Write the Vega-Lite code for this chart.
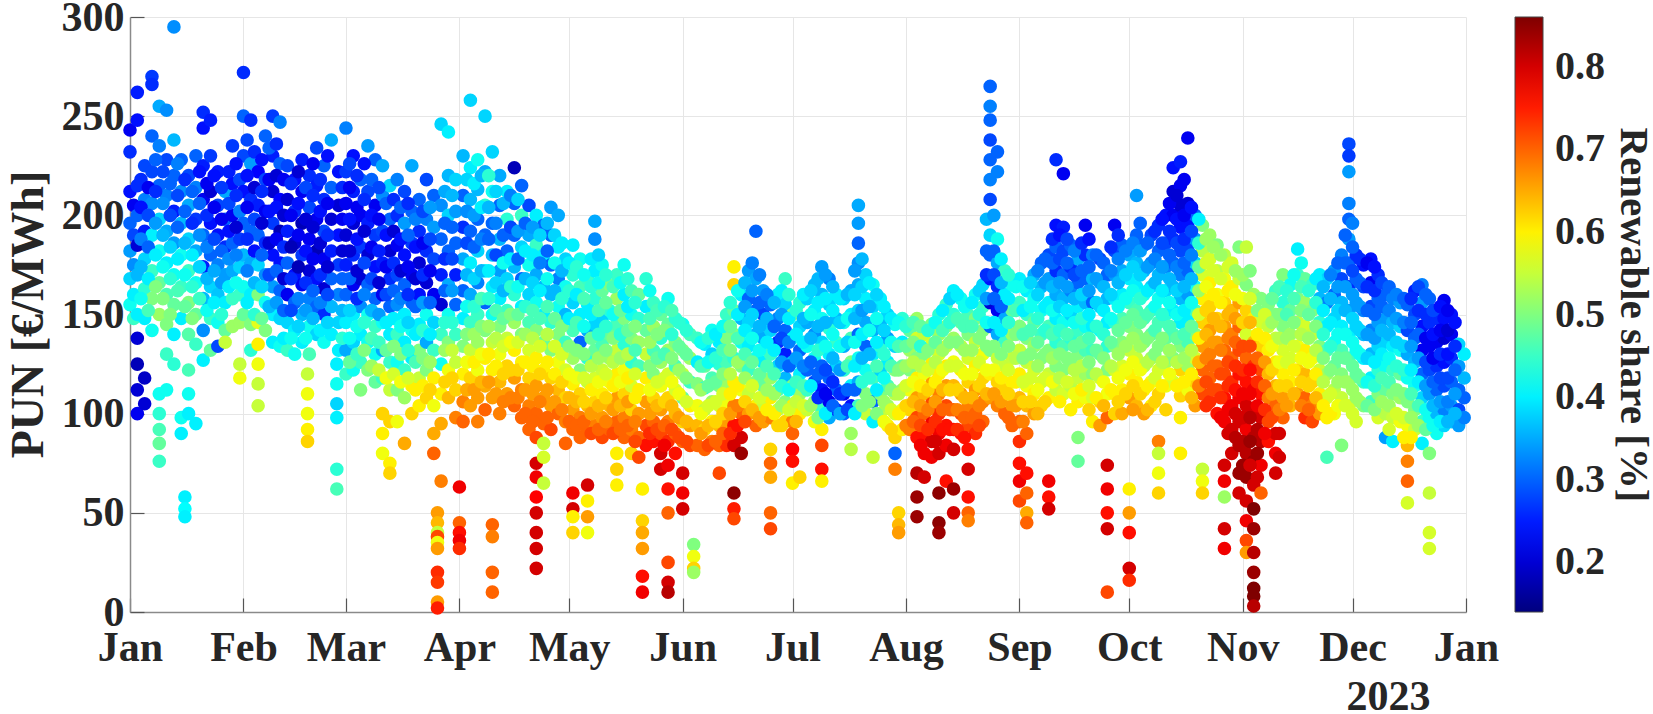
{
  "$schema": "https://vega.github.io/schema/vega-lite/v6.json",
  "width": 1336,
  "height": 595,
  "autosize": {"type": "none"},
  "padding": {"left": 130, "top": 17, "right": 187, "bottom": 102},
  "background": "white",
  "config": {
    "view": {"stroke": null},
    "font": "Liberation Serif",
    "axis": {
      "labelFont": "Liberation Serif",
      "labelFontSize": 42,
      "labelFontWeight": "bold",
      "labelColor": "#262626",
      "titleFont": "Liberation Serif",
      "titleFontSize": 46,
      "titleFontWeight": "bold",
      "titleColor": "#262626",
      "domainColor": "#8a8a8a",
      "domainWidth": 1.5,
      "tickColor": "#555555",
      "tickWidth": 1.2,
      "tickSize": -14,
      "gridColor": "#e6e6e6",
      "gridWidth": 1
    }
  },
  "data": {
    "values": [
      {"day":0,"pun":212,"share":0.24},{"day":0,"pun":196,"share":0.3},{"day":0,"pun":182,"share":0.34},{"day":0,"pun":168,"share":0.38},{"day":0,"pun":155,"share":0.42},{"day":0,"pun":232,"share":0.26},{"day":0,"pun":243,"share":0.22},
      {"day":1,"pun":205,"share":0.22},{"day":1,"pun":190,"share":0.28},{"day":1,"pun":175,"share":0.33},{"day":1,"pun":160,"share":0.4},{"day":1,"pun":148,"share":0.45},
      {"day":2,"pun":262,"share":0.25},{"day":2,"pun":248,"share":0.24},{"day":2,"pun":215,"share":0.26},{"day":2,"pun":200,"share":0.3},{"day":2,"pun":185,"share":0.2},{"day":2,"pun":170,"share":0.36},{"day":2,"pun":150,"share":0.4},{"day":2,"pun":138,"share":0.2},{"day":2,"pun":125,"share":0.18},{"day":2,"pun":112,"share":0.2},{"day":2,"pun":100,"share":0.22},
      {"day":4,"pun":225,"share":0.28},{"day":4,"pun":208,"share":0.32},{"day":4,"pun":192,"share":0.25},{"day":4,"pun":178,"share":0.38},{"day":4,"pun":163,"share":0.44},{"day":4,"pun":148,"share":0.4},{"day":4,"pun":105,"share":0.2},{"day":4,"pun":118,"share":0.19},
      {"day":6,"pun":270,"share":0.27},{"day":6,"pun":266,"share":0.26},{"day":6,"pun":240,"share":0.3},{"day":6,"pun":222,"share":0.28},{"day":6,"pun":206,"share":0.33},{"day":6,"pun":190,"share":0.4},{"day":6,"pun":172,"share":0.45},{"day":6,"pun":158,"share":0.5},{"day":6,"pun":142,"share":0.42},
      {"day":8,"pun":255,"share":0.35},{"day":8,"pun":235,"share":0.32},{"day":8,"pun":215,"share":0.3},{"day":8,"pun":198,"share":0.38},{"day":8,"pun":182,"share":0.42},{"day":8,"pun":166,"share":0.48},{"day":8,"pun":150,"share":0.52},{"day":8,"pun":110,"share":0.42},{"day":8,"pun":100,"share":0.44},{"day":8,"pun":92,"share":0.46},{"day":8,"pun":85,"share":0.48},{"day":8,"pun":76,"share":0.45},
      {"day":10,"pun":253,"share":0.33},{"day":10,"pun":228,"share":0.28},{"day":10,"pun":210,"share":0.32},{"day":10,"pun":192,"share":0.35},{"day":10,"pun":176,"share":0.4},{"day":10,"pun":160,"share":0.46},{"day":10,"pun":145,"share":0.5},{"day":10,"pun":130,"share":0.45},{"day":10,"pun":112,"share":0.42},
      {"day":12,"pun":295,"share":0.33},{"day":12,"pun":238,"share":0.36},{"day":12,"pun":220,"share":0.3},{"day":12,"pun":202,"share":0.25},{"day":12,"pun":186,"share":0.34},{"day":12,"pun":170,"share":0.42},{"day":12,"pun":155,"share":0.48},{"day":12,"pun":140,"share":0.4},{"day":12,"pun":125,"share":0.44},
      {"day":14,"pun":228,"share":0.3},{"day":14,"pun":212,"share":0.33},{"day":14,"pun":196,"share":0.36},{"day":14,"pun":180,"share":0.42},{"day":14,"pun":164,"share":0.45},{"day":14,"pun":148,"share":0.4},{"day":14,"pun":98,"share":0.42},{"day":14,"pun":90,"share":0.4},
      {"day":15,"pun":58,"share":0.4},{"day":15,"pun":52,"share":0.41},{"day":15,"pun":48,"share":0.4},
      {"day":16,"pun":220,"share":0.28},{"day":16,"pun":205,"share":0.35},{"day":16,"pun":188,"share":0.38},{"day":16,"pun":172,"share":0.45},{"day":16,"pun":156,"share":0.5},{"day":16,"pun":140,"share":0.47},{"day":16,"pun":122,"share":0.46},{"day":16,"pun":110,"share":0.42},{"day":16,"pun":100,"share":0.4},
      {"day":18,"pun":230,"share":0.3},{"day":18,"pun":214,"share":0.32},{"day":18,"pun":198,"share":0.27},{"day":18,"pun":182,"share":0.35},{"day":18,"pun":166,"share":0.42},{"day":18,"pun":150,"share":0.48},{"day":18,"pun":135,"share":0.45},{"day":18,"pun":95,"share":0.4},
      {"day":20,"pun":252,"share":0.26},{"day":20,"pun":244,"share":0.24},{"day":20,"pun":225,"share":0.25},{"day":20,"pun":208,"share":0.22},{"day":20,"pun":190,"share":0.3},{"day":20,"pun":174,"share":0.25},{"day":20,"pun":158,"share":0.36},{"day":20,"pun":142,"share":0.33},{"day":20,"pun":127,"share":0.4},
      {"day":22,"pun":248,"share":0.25},{"day":22,"pun":230,"share":0.27},{"day":22,"pun":212,"share":0.2},{"day":22,"pun":196,"share":0.24},{"day":22,"pun":180,"share":0.3},{"day":22,"pun":164,"share":0.38},{"day":22,"pun":148,"share":0.45},{"day":22,"pun":132,"share":0.48},
      {"day":24,"pun":222,"share":0.25},{"day":24,"pun":205,"share":0.28},{"day":24,"pun":190,"share":0.24},{"day":24,"pun":175,"share":0.32},{"day":24,"pun":160,"share":0.37},{"day":24,"pun":146,"share":0.42},{"day":24,"pun":134,"share":0.28},
      {"day":26,"pun":212,"share":0.35},{"day":26,"pun":198,"share":0.3},{"day":26,"pun":184,"share":0.26},{"day":26,"pun":170,"share":0.34},{"day":26,"pun":156,"share":0.4},{"day":26,"pun":142,"share":0.48},{"day":26,"pun":136,"share":0.55},
      {"day":28,"pun":235,"share":0.27},{"day":28,"pun":216,"share":0.24},{"day":28,"pun":200,"share":0.22},{"day":28,"pun":186,"share":0.3},{"day":28,"pun":172,"share":0.35},{"day":28,"pun":158,"share":0.45},{"day":28,"pun":144,"share":0.52},
      {"day":30,"pun":218,"share":0.28},{"day":30,"pun":202,"share":0.32},{"day":30,"pun":188,"share":0.27},{"day":30,"pun":174,"share":0.38},{"day":30,"pun":160,"share":0.45},{"day":30,"pun":146,"share":0.52},{"day":30,"pun":125,"share":0.55},{"day":30,"pun":118,"share":0.58},
      {"day":31,"pun":272,"share":0.26},{"day":31,"pun":250,"share":0.3},{"day":31,"pun":230,"share":0.28},{"day":31,"pun":212,"share":0.24},{"day":31,"pun":196,"share":0.3},{"day":31,"pun":180,"share":0.36},{"day":31,"pun":164,"share":0.42},{"day":31,"pun":150,"share":0.48},
      {"day":33,"pun":248,"share":0.26},{"day":33,"pun":226,"share":0.34},{"day":33,"pun":208,"share":0.26},{"day":33,"pun":192,"share":0.3},{"day":33,"pun":176,"share":0.35},{"day":33,"pun":160,"share":0.4},{"day":33,"pun":145,"share":0.5},{"day":33,"pun":132,"share":0.44},
      {"day":35,"pun":222,"share":0.23},{"day":35,"pun":205,"share":0.25},{"day":35,"pun":190,"share":0.3},{"day":35,"pun":175,"share":0.38},{"day":35,"pun":160,"share":0.5},{"day":35,"pun":146,"share":0.57},{"day":35,"pun":135,"share":0.6},{"day":35,"pun":125,"share":0.58},{"day":35,"pun":115,"share":0.55},{"day":35,"pun":104,"share":0.55},
      {"day":37,"pun":240,"share":0.3},{"day":37,"pun":218,"share":0.28},{"day":37,"pun":202,"share":0.22},{"day":37,"pun":186,"share":0.26},{"day":37,"pun":170,"share":0.33},{"day":37,"pun":156,"share":0.42},{"day":37,"pun":142,"share":0.5},
      {"day":39,"pun":250,"share":0.27},{"day":39,"pun":230,"share":0.25},{"day":39,"pun":212,"share":0.2},{"day":39,"pun":196,"share":0.27},{"day":39,"pun":180,"share":0.24},{"day":39,"pun":164,"share":0.34},{"day":39,"pun":150,"share":0.4},{"day":39,"pun":136,"share":0.4},
      {"day":41,"pun":247,"share":0.32},{"day":41,"pun":226,"share":0.3},{"day":41,"pun":208,"share":0.23},{"day":41,"pun":192,"share":0.18},{"day":41,"pun":176,"share":0.24},{"day":41,"pun":162,"share":0.3},{"day":41,"pun":148,"share":0.38},{"day":41,"pun":134,"share":0.42},
      {"day":43,"pun":225,"share":0.28},{"day":43,"pun":208,"share":0.2},{"day":43,"pun":192,"share":0.25},{"day":43,"pun":176,"share":0.3},{"day":43,"pun":160,"share":0.22},{"day":43,"pun":146,"share":0.38},{"day":43,"pun":132,"share":0.45},
      {"day":45,"pun":218,"share":0.24},{"day":45,"pun":202,"share":0.26},{"day":45,"pun":186,"share":0.2},{"day":45,"pun":170,"share":0.24},{"day":45,"pun":156,"share":0.3},{"day":45,"pun":142,"share":0.4},{"day":45,"pun":130,"share":0.42},
      {"day":47,"pun":228,"share":0.25},{"day":47,"pun":212,"share":0.22},{"day":47,"pun":196,"share":0.18},{"day":47,"pun":180,"share":0.27},{"day":47,"pun":165,"share":0.22},{"day":47,"pun":150,"share":0.36},{"day":47,"pun":136,"share":0.4},
      {"day":48.5,"pun":120,"share":0.55},{"day":48.5,"pun":110,"share":0.58},{"day":48.5,"pun":100,"share":0.58},{"day":48.5,"pun":92,"share":0.6},{"day":48.5,"pun":86,"share":0.62},
      {"day":49,"pun":220,"share":0.26},{"day":49,"pun":204,"share":0.28},{"day":49,"pun":188,"share":0.22},{"day":49,"pun":172,"share":0.2},{"day":49,"pun":158,"share":0.32},{"day":49,"pun":144,"share":0.42},{"day":49,"pun":130,"share":0.46},
      {"day":51,"pun":234,"share":0.28},{"day":51,"pun":215,"share":0.25},{"day":51,"pun":198,"share":0.22},{"day":51,"pun":182,"share":0.18},{"day":51,"pun":168,"share":0.24},{"day":51,"pun":154,"share":0.3},{"day":51,"pun":140,"share":0.38},
      {"day":53,"pun":225,"share":0.3},{"day":53,"pun":208,"share":0.26},{"day":53,"pun":192,"share":0.28},{"day":53,"pun":178,"share":0.22},{"day":53,"pun":163,"share":0.2},{"day":53,"pun":150,"share":0.26},{"day":53,"pun":136,"share":0.42},
      {"day":55,"pun":238,"share":0.35},{"day":55,"pun":214,"share":0.3},{"day":55,"pun":198,"share":0.2},{"day":55,"pun":182,"share":0.25},{"day":55,"pun":168,"share":0.3},{"day":55,"pun":154,"share":0.36},{"day":55,"pun":140,"share":0.4},
      {"day":56.5,"pun":125,"share":0.4},{"day":56.5,"pun":115,"share":0.42},{"day":56.5,"pun":105,"share":0.38},{"day":56.5,"pun":98,"share":0.4},{"day":56.5,"pun":72,"share":0.44},{"day":56.5,"pun":62,"share":0.46},
      {"day":57,"pun":222,"share":0.24},{"day":57,"pun":205,"share":0.2},{"day":57,"pun":190,"share":0.24},{"day":57,"pun":175,"share":0.27},{"day":57,"pun":160,"share":0.32},{"day":57,"pun":146,"share":0.38},{"day":57,"pun":132,"share":0.4},
      {"day":59,"pun":244,"share":0.32},{"day":59,"pun":222,"share":0.27},{"day":59,"pun":206,"share":0.22},{"day":59,"pun":190,"share":0.2},{"day":59,"pun":175,"share":0.25},{"day":59,"pun":160,"share":0.3},{"day":59,"pun":146,"share":0.4},{"day":59,"pun":132,"share":0.35},{"day":59,"pun":120,"share":0.45},
      {"day":61,"pun":230,"share":0.24},{"day":61,"pun":212,"share":0.25},{"day":61,"pun":196,"share":0.2},{"day":61,"pun":180,"share":0.26},{"day":61,"pun":165,"share":0.22},{"day":61,"pun":150,"share":0.4},{"day":61,"pun":136,"share":0.38},{"day":61,"pun":122,"share":0.42},
      {"day":63,"pun":218,"share":0.3},{"day":63,"pun":200,"share":0.22},{"day":63,"pun":184,"share":0.27},{"day":63,"pun":168,"share":0.2},{"day":63,"pun":154,"share":0.33},{"day":63,"pun":140,"share":0.4},{"day":63,"pun":126,"share":0.45},{"day":63,"pun":112,"share":0.5},
      {"day":65,"pun":235,"share":0.34},{"day":65,"pun":212,"share":0.28},{"day":65,"pun":196,"share":0.25},{"day":65,"pun":180,"share":0.2},{"day":65,"pun":165,"share":0.3},{"day":65,"pun":150,"share":0.42},{"day":65,"pun":136,"share":0.42},{"day":65,"pun":122,"share":0.5},
      {"day":67,"pun":228,"share":0.3},{"day":67,"pun":205,"share":0.22},{"day":67,"pun":190,"share":0.27},{"day":67,"pun":174,"share":0.24},{"day":67,"pun":158,"share":0.3},{"day":67,"pun":144,"share":0.45},{"day":67,"pun":130,"share":0.42},{"day":67,"pun":116,"share":0.48},
      {"day":69,"pun":225,"share":0.35},{"day":69,"pun":210,"share":0.33},{"day":69,"pun":192,"share":0.28},{"day":69,"pun":176,"share":0.25},{"day":69,"pun":160,"share":0.22},{"day":69,"pun":146,"share":0.42},{"day":69,"pun":132,"share":0.35},{"day":69,"pun":118,"share":0.45},{"day":69,"pun":100,"share":0.62},{"day":69,"pun":90,"share":0.6},{"day":69,"pun":80,"share":0.58},
      {"day":71,"pun":215,"share":0.38},{"day":71,"pun":198,"share":0.3},{"day":71,"pun":182,"share":0.2},{"day":71,"pun":168,"share":0.26},{"day":71,"pun":154,"share":0.3},{"day":71,"pun":140,"share":0.4},{"day":71,"pun":126,"share":0.45},{"day":71,"pun":112,"share":0.55},{"day":71,"pun":96,"share":0.62},{"day":71,"pun":75,"share":0.6},{"day":71,"pun":70,"share":0.62},
      {"day":73,"pun":218,"share":0.32},{"day":73,"pun":200,"share":0.26},{"day":73,"pun":185,"share":0.22},{"day":73,"pun":170,"share":0.28},{"day":73,"pun":155,"share":0.33},{"day":73,"pun":140,"share":0.45},{"day":73,"pun":126,"share":0.42},{"day":73,"pun":112,"share":0.5},{"day":73,"pun":96,"share":0.58},
      {"day":75,"pun":212,"share":0.28},{"day":75,"pun":196,"share":0.34},{"day":75,"pun":180,"share":0.24},{"day":75,"pun":165,"share":0.3},{"day":75,"pun":150,"share":0.4},{"day":75,"pun":136,"share":0.4},{"day":75,"pun":122,"share":0.45},{"day":75,"pun":108,"share":0.52},{"day":75,"pun":85,"share":0.65},
      {"day":77,"pun":225,"share":0.35},{"day":77,"pun":202,"share":0.3},{"day":77,"pun":186,"share":0.27},{"day":77,"pun":170,"share":0.22},{"day":77,"pun":156,"share":0.3},{"day":77,"pun":142,"share":0.42},{"day":77,"pun":128,"share":0.4},{"day":77,"pun":114,"share":0.6},{"day":77,"pun":100,"share":0.62},
      {"day":79,"pun":208,"share":0.3},{"day":79,"pun":192,"share":0.26},{"day":79,"pun":176,"share":0.2},{"day":79,"pun":160,"share":0.24},{"day":79,"pun":145,"share":0.4},{"day":79,"pun":132,"share":0.5},{"day":79,"pun":118,"share":0.55},{"day":79,"pun":104,"share":0.6},
      {"day":81,"pun":218,"share":0.28},{"day":81,"pun":198,"share":0.32},{"day":81,"pun":182,"share":0.26},{"day":81,"pun":166,"share":0.2},{"day":81,"pun":150,"share":0.42},{"day":81,"pun":136,"share":0.35},{"day":81,"pun":122,"share":0.5},{"day":81,"pun":108,"share":0.62},
      {"day":83,"pun":210,"share":0.3},{"day":83,"pun":194,"share":0.34},{"day":83,"pun":178,"share":0.28},{"day":83,"pun":160,"share":0.22},{"day":83,"pun":146,"share":0.38},{"day":83,"pun":132,"share":0.45},{"day":83,"pun":118,"share":0.6},{"day":83,"pun":104,"share":0.58},{"day":83,"pun":90,"share":0.65},{"day":83,"pun":80,"share":0.7},
      {"day":84,"pun":50,"share":0.66},{"day":84,"pun":45,"share":0.64},{"day":84,"pun":40,"share":0.55},{"day":84,"pun":38,"share":0.72},{"day":84,"pun":35,"share":0.58},{"day":84,"pun":32,"share":0.66},{"day":84,"pun":20,"share":0.74},{"day":84,"pun":15,"share":0.73},{"day":84,"pun":5,"share":0.66},{"day":84,"pun":2,"share":0.75},
      {"day":85,"pun":246,"share":0.38},{"day":85,"pun":205,"share":0.33},{"day":85,"pun":188,"share":0.3},{"day":85,"pun":170,"share":0.25},{"day":85,"pun":155,"share":0.2},{"day":85,"pun":140,"share":0.45},{"day":85,"pun":125,"share":0.42},{"day":85,"pun":110,"share":0.6},{"day":85,"pun":95,"share":0.65},{"day":85,"pun":66,"share":0.68},
      {"day":87,"pun":242,"share":0.4},{"day":87,"pun":220,"share":0.36},{"day":87,"pun":200,"share":0.38},{"day":87,"pun":182,"share":0.3},{"day":87,"pun":165,"share":0.35},{"day":87,"pun":150,"share":0.42},{"day":87,"pun":136,"share":0.5},{"day":87,"pun":122,"share":0.58},{"day":87,"pun":108,"share":0.64},
      {"day":89,"pun":218,"share":0.38},{"day":89,"pun":202,"share":0.34},{"day":89,"pun":186,"share":0.3},{"day":89,"pun":170,"share":0.25},{"day":89,"pun":155,"share":0.3},{"day":89,"pun":140,"share":0.45},{"day":89,"pun":126,"share":0.55},{"day":89,"pun":112,"share":0.62},{"day":89,"pun":98,"share":0.68},
      {"day":90,"pun":63,"share":0.78},{"day":90,"pun":45,"share":0.7},{"day":90,"pun":40,"share":0.76},{"day":90,"pun":36,"share":0.78},{"day":90,"pun":32,"share":0.74},
      {"day":91,"pun":230,"share":0.36},{"day":91,"pun":210,"share":0.3},{"day":91,"pun":194,"share":0.26},{"day":91,"pun":178,"share":0.35},{"day":91,"pun":162,"share":0.3},{"day":91,"pun":148,"share":0.4},{"day":91,"pun":134,"share":0.5},{"day":91,"pun":120,"share":0.6},{"day":91,"pun":106,"share":0.68},{"day":91,"pun":96,"share":0.7},
      {"day":93,"pun":258,"share":0.38},{"day":93,"pun":224,"share":0.4},{"day":93,"pun":208,"share":0.36},{"day":93,"pun":192,"share":0.3},{"day":93,"pun":176,"share":0.4},{"day":93,"pun":160,"share":0.35},{"day":93,"pun":146,"share":0.45},{"day":93,"pun":132,"share":0.55},{"day":93,"pun":118,"share":0.62},{"day":93,"pun":104,"share":0.66},
      {"day":95,"pun":228,"share":0.42},{"day":95,"pun":213,"share":0.36},{"day":95,"pun":198,"share":0.3},{"day":95,"pun":182,"share":0.38},{"day":95,"pun":166,"share":0.32},{"day":95,"pun":150,"share":0.45},{"day":95,"pun":136,"share":0.52},{"day":95,"pun":122,"share":0.58},{"day":95,"pun":108,"share":0.66},{"day":95,"pun":96,"share":0.68},
      {"day":97,"pun":250,"share":0.38},{"day":97,"pun":222,"share":0.35},{"day":97,"pun":205,"share":0.44},{"day":97,"pun":190,"share":0.3},{"day":97,"pun":172,"share":0.4},{"day":97,"pun":156,"share":0.3},{"day":97,"pun":142,"share":0.5},{"day":97,"pun":128,"share":0.6},{"day":97,"pun":114,"share":0.65},{"day":97,"pun":102,"share":0.7},
      {"day":99,"pun":232,"share":0.38},{"day":99,"pun":212,"share":0.42},{"day":99,"pun":196,"share":0.3},{"day":99,"pun":180,"share":0.36},{"day":99,"pun":164,"share":0.4},{"day":99,"pun":150,"share":0.42},{"day":99,"pun":136,"share":0.55},{"day":99,"pun":122,"share":0.6},{"day":99,"pun":108,"share":0.66},{"day":99,"pun":44,"share":0.7},{"day":99,"pun":38,"share":0.68},{"day":99,"pun":20,"share":0.7},{"day":99,"pun":10,"share":0.7},
      {"day":101,"pun":220,"share":0.35},{"day":101,"pun":205,"share":0.3},{"day":101,"pun":188,"share":0.36},{"day":101,"pun":172,"share":0.34},{"day":101,"pun":158,"share":0.4},{"day":101,"pun":144,"share":0.5},{"day":101,"pun":130,"share":0.58},{"day":101,"pun":116,"share":0.64},{"day":101,"pun":100,"share":0.68},
      {"day":103,"pun":212,"share":0.4},{"day":103,"pun":198,"share":0.44},{"day":103,"pun":182,"share":0.3},{"day":103,"pun":168,"share":0.38},{"day":103,"pun":152,"share":0.45},{"day":103,"pun":138,"share":0.55},{"day":103,"pun":124,"share":0.62},{"day":103,"pun":110,"share":0.66},
      {"day":105,"pun":224,"share":0.18},{"day":105,"pun":206,"share":0.3},{"day":105,"pun":190,"share":0.3},{"day":105,"pun":174,"share":0.36},{"day":105,"pun":160,"share":0.44},{"day":105,"pun":146,"share":0.52},{"day":105,"pun":132,"share":0.6},{"day":105,"pun":118,"share":0.66},{"day":105,"pun":104,"share":0.7},
      {"day":107,"pun":215,"share":0.3},{"day":107,"pun":200,"share":0.45},{"day":107,"pun":184,"share":0.38},{"day":107,"pun":168,"share":0.3},{"day":107,"pun":154,"share":0.4},{"day":107,"pun":140,"share":0.5},{"day":107,"pun":126,"share":0.6},{"day":107,"pun":112,"share":0.68},{"day":107,"pun":98,"share":0.7},
      {"day":109,"pun":205,"share":0.28},{"day":109,"pun":190,"share":0.35},{"day":109,"pun":175,"share":0.42},{"day":109,"pun":160,"share":0.38},{"day":109,"pun":146,"share":0.46},{"day":109,"pun":132,"share":0.56},{"day":109,"pun":118,"share":0.62},{"day":109,"pun":104,"share":0.68},{"day":109,"pun":92,"share":0.7},
      {"day":111,"pun":200,"share":0.4},{"day":111,"pun":185,"share":0.45},{"day":111,"pun":170,"share":0.35},{"day":111,"pun":156,"share":0.42},{"day":111,"pun":142,"share":0.5},{"day":111,"pun":128,"share":0.6},{"day":111,"pun":114,"share":0.66},{"day":111,"pun":100,"share":0.7},{"day":111,"pun":88,"share":0.72},{"day":111,"pun":75,"share":0.8},{"day":111,"pun":68,"share":0.78},{"day":111,"pun":58,"share":0.77},{"day":111,"pun":50,"share":0.8},{"day":111,"pun":40,"share":0.8},{"day":111,"pun":32,"share":0.8},{"day":111,"pun":22,"share":0.8},
      {"day":113,"pun":195,"share":0.3},{"day":113,"pun":180,"share":0.4},{"day":113,"pun":164,"share":0.36},{"day":113,"pun":150,"share":0.4},{"day":113,"pun":136,"share":0.48},{"day":113,"pun":122,"share":0.6},{"day":113,"pun":108,"share":0.66},{"day":113,"pun":95,"share":0.7},{"day":113,"pun":85,"share":0.55},{"day":113,"pun":78,"share":0.56},{"day":113,"pun":65,"share":0.55},
      {"day":115,"pun":204,"share":0.34},{"day":115,"pun":190,"share":0.3},{"day":115,"pun":175,"share":0.3},{"day":115,"pun":160,"share":0.36},{"day":115,"pun":146,"share":0.44},{"day":115,"pun":132,"share":0.5},{"day":115,"pun":118,"share":0.62},{"day":115,"pun":104,"share":0.66},{"day":115,"pun":92,"share":0.72},
      {"day":117,"pun":200,"share":0.35},{"day":117,"pun":184,"share":0.4},{"day":117,"pun":168,"share":0.32},{"day":117,"pun":154,"share":0.42},{"day":117,"pun":140,"share":0.5},{"day":117,"pun":126,"share":0.58},{"day":117,"pun":112,"share":0.64},{"day":117,"pun":100,"share":0.7},
      {"day":119,"pun":178,"share":0.38},{"day":119,"pun":164,"share":0.42},{"day":119,"pun":150,"share":0.36},{"day":119,"pun":136,"share":0.45},{"day":119,"pun":122,"share":0.56},{"day":119,"pun":108,"share":0.62},{"day":119,"pun":96,"share":0.68},{"day":119,"pun":85,"share":0.7},
      {"day":121,"pun":185,"share":0.4},{"day":121,"pun":170,"share":0.44},{"day":121,"pun":156,"share":0.38},{"day":121,"pun":142,"share":0.46},{"day":121,"pun":128,"share":0.52},{"day":121,"pun":115,"share":0.6},{"day":121,"pun":102,"share":0.66},{"day":121,"pun":92,"share":0.7},{"day":121,"pun":60,"share":0.78},{"day":121,"pun":52,"share":0.8},{"day":121,"pun":48,"share":0.6},{"day":121,"pun":40,"share":0.62},
      {"day":123,"pun":178,"share":0.42},{"day":123,"pun":164,"share":0.46},{"day":123,"pun":150,"share":0.4},{"day":123,"pun":136,"share":0.3},{"day":123,"pun":122,"share":0.5},{"day":123,"pun":110,"share":0.62},{"day":123,"pun":98,"share":0.68},{"day":123,"pun":88,"share":0.7},
      {"day":125,"pun":168,"share":0.45},{"day":125,"pun":155,"share":0.4},{"day":125,"pun":142,"share":0.35},{"day":125,"pun":128,"share":0.44},{"day":125,"pun":116,"share":0.55},{"day":125,"pun":104,"share":0.64},{"day":125,"pun":92,"share":0.7},{"day":125,"pun":64,"share":0.8},{"day":125,"pun":56,"share":0.6},{"day":125,"pun":48,"share":0.66},{"day":125,"pun":40,"share":0.58},
      {"day":127,"pun":197,"share":0.35},{"day":127,"pun":188,"share":0.33},{"day":127,"pun":172,"share":0.4},{"day":127,"pun":158,"share":0.44},{"day":127,"pun":145,"share":0.38},{"day":127,"pun":132,"share":0.48},{"day":127,"pun":118,"share":0.56},{"day":127,"pun":106,"share":0.62},{"day":127,"pun":94,"share":0.68},
      {"day":129,"pun":175,"share":0.42},{"day":129,"pun":162,"share":0.48},{"day":129,"pun":148,"share":0.38},{"day":129,"pun":135,"share":0.46},{"day":129,"pun":122,"share":0.55},{"day":129,"pun":110,"share":0.6},{"day":129,"pun":98,"share":0.66},{"day":129,"pun":88,"share":0.72},
      {"day":131,"pun":165,"share":0.5},{"day":131,"pun":152,"share":0.44},{"day":131,"pun":140,"share":0.48},{"day":131,"pun":128,"share":0.52},{"day":131,"pun":116,"share":0.58},{"day":131,"pun":104,"share":0.64},{"day":131,"pun":92,"share":0.7},
      {"day":133,"pun":170,"share":0.45},{"day":133,"pun":158,"share":0.52},{"day":133,"pun":145,"share":0.46},{"day":133,"pun":132,"share":0.55},{"day":133,"pun":120,"share":0.6},{"day":133,"pun":108,"share":0.66},{"day":133,"pun":96,"share":0.7},{"day":133,"pun":80,"share":0.6},{"day":133,"pun":72,"share":0.62},{"day":133,"pun":64,"share":0.6},
      {"day":135,"pun":175,"share":0.42},{"day":135,"pun":160,"share":0.4},{"day":135,"pun":148,"share":0.5},{"day":135,"pun":135,"share":0.44},{"day":135,"pun":122,"share":0.58},{"day":135,"pun":110,"share":0.62},{"day":135,"pun":98,"share":0.68},{"day":135,"pun":88,"share":0.7},
      {"day":137,"pun":162,"share":0.46},{"day":137,"pun":150,"share":0.42},{"day":137,"pun":138,"share":0.5},{"day":137,"pun":126,"share":0.44},{"day":137,"pun":114,"share":0.56},{"day":137,"pun":102,"share":0.62},{"day":137,"pun":92,"share":0.68},{"day":137,"pun":80,"share":0.62},
      {"day":139,"pun":160,"share":0.48},{"day":139,"pun":148,"share":0.44},{"day":139,"pun":136,"share":0.52},{"day":139,"pun":124,"share":0.46},{"day":139,"pun":112,"share":0.6},{"day":139,"pun":100,"share":0.66},{"day":139,"pun":88,"share":0.7},{"day":139,"pun":78,"share":0.72},
      {"day":140,"pun":62,"share":0.6},{"day":140,"pun":46,"share":0.62},{"day":140,"pun":40,"share":0.65},{"day":140,"pun":32,"share":0.66},{"day":140,"pun":18,"share":0.76},{"day":140,"pun":10,"share":0.78},
      {"day":141,"pun":168,"share":0.44},{"day":141,"pun":154,"share":0.4},{"day":141,"pun":142,"share":0.48},{"day":141,"pun":130,"share":0.55},{"day":141,"pun":118,"share":0.6},{"day":141,"pun":106,"share":0.66},{"day":141,"pun":94,"share":0.72},{"day":141,"pun":84,"share":0.76},
      {"day":143,"pun":156,"share":0.45},{"day":143,"pun":144,"share":0.52},{"day":143,"pun":132,"share":0.46},{"day":143,"pun":120,"share":0.5},{"day":143,"pun":108,"share":0.62},{"day":143,"pun":96,"share":0.7},{"day":143,"pun":86,"share":0.76},
      {"day":145,"pun":150,"share":0.48},{"day":145,"pun":138,"share":0.44},{"day":145,"pun":126,"share":0.52},{"day":145,"pun":114,"share":0.58},{"day":145,"pun":102,"share":0.66},{"day":145,"pun":90,"share":0.72},{"day":145,"pun":80,"share":0.8},{"day":145,"pun":72,"share":0.8},
      {"day":147,"pun":158,"share":0.42},{"day":147,"pun":145,"share":0.48},{"day":147,"pun":132,"share":0.52},{"day":147,"pun":120,"share":0.56},{"day":147,"pun":108,"share":0.62},{"day":147,"pun":96,"share":0.68},{"day":147,"pun":86,"share":0.74},{"day":147,"pun":74,"share":0.78},{"day":147,"pun":62,"share":0.76},{"day":147,"pun":50,"share":0.7},{"day":147,"pun":25,"share":0.72},{"day":147,"pun":15,"share":0.8},{"day":147,"pun":10,"share":0.82},
      {"day":149,"pun":148,"share":0.44},{"day":149,"pun":136,"share":0.5},{"day":149,"pun":124,"share":0.46},{"day":149,"pun":112,"share":0.56},{"day":149,"pun":100,"share":0.64},{"day":149,"pun":90,"share":0.7},{"day":149,"pun":80,"share":0.76},
      {"day":151,"pun":145,"share":0.42},{"day":151,"pun":132,"share":0.5},{"day":151,"pun":120,"share":0.55},{"day":151,"pun":108,"share":0.48},{"day":151,"pun":96,"share":0.62},{"day":151,"pun":86,"share":0.7},{"day":151,"pun":70,"share":0.8},{"day":151,"pun":60,"share":0.78},{"day":151,"pun":52,"share":0.8},
      {"day":153,"pun":140,"share":0.46},{"day":153,"pun":128,"share":0.52},{"day":153,"pun":116,"share":0.45},{"day":153,"pun":104,"share":0.6},{"day":153,"pun":94,"share":0.66},{"day":153,"pun":84,"share":0.72},
      {"day":154,"pun":34,"share":0.5},{"day":154,"pun":28,"share":0.58},{"day":154,"pun":22,"share":0.62},{"day":154,"pun":20,"share":0.52},
      {"day":155,"pun":138,"share":0.45},{"day":155,"pun":126,"share":0.4},{"day":155,"pun":115,"share":0.5},{"day":155,"pun":104,"share":0.58},{"day":155,"pun":94,"share":0.64},{"day":155,"pun":84,"share":0.7},
      {"day":157,"pun":135,"share":0.4},{"day":157,"pun":124,"share":0.48},{"day":157,"pun":113,"share":0.44},{"day":157,"pun":102,"share":0.55},{"day":157,"pun":92,"share":0.62},{"day":157,"pun":82,"share":0.7},
      {"day":159,"pun":142,"share":0.42},{"day":159,"pun":130,"share":0.38},{"day":159,"pun":118,"share":0.46},{"day":159,"pun":106,"share":0.52},{"day":159,"pun":96,"share":0.6},{"day":159,"pun":86,"share":0.68},
      {"day":161,"pun":136,"share":0.4},{"day":161,"pun":125,"share":0.44},{"day":161,"pun":114,"share":0.5},{"day":161,"pun":104,"share":0.56},{"day":161,"pun":94,"share":0.64},{"day":161,"pun":84,"share":0.7},{"day":161,"pun":70,"share":0.72},
      {"day":163,"pun":150,"share":0.45},{"day":163,"pun":138,"share":0.5},{"day":163,"pun":126,"share":0.46},{"day":163,"pun":115,"share":0.52},{"day":163,"pun":104,"share":0.58},{"day":163,"pun":94,"share":0.66},{"day":163,"pun":84,"share":0.74},
      {"day":165,"pun":174,"share":0.6},{"day":165,"pun":165,"share":0.62},{"day":165,"pun":152,"share":0.48},{"day":165,"pun":140,"share":0.5},{"day":165,"pun":128,"share":0.44},{"day":165,"pun":116,"share":0.6},{"day":165,"pun":104,"share":0.68},{"day":165,"pun":94,"share":0.76},{"day":165,"pun":84,"share":0.8},{"day":165,"pun":60,"share":0.85},{"day":165,"pun":52,"share":0.75},{"day":165,"pun":47,"share":0.72},
      {"day":167,"pun":160,"share":0.4},{"day":167,"pun":148,"share":0.36},{"day":167,"pun":136,"share":0.42},{"day":167,"pun":124,"share":0.5},{"day":167,"pun":112,"share":0.58},{"day":167,"pun":100,"share":0.7},{"day":167,"pun":88,"share":0.8},{"day":167,"pun":80,"share":0.84},
      {"day":169,"pun":172,"share":0.34},{"day":169,"pun":158,"share":0.3},{"day":169,"pun":146,"share":0.38},{"day":169,"pun":134,"share":0.4},{"day":169,"pun":122,"share":0.45},{"day":169,"pun":110,"share":0.55},{"day":169,"pun":100,"share":0.66},
      {"day":171,"pun":192,"share":0.3},{"day":171,"pun":168,"share":0.35},{"day":171,"pun":152,"share":0.3},{"day":171,"pun":140,"share":0.36},{"day":171,"pun":128,"share":0.42},{"day":171,"pun":116,"share":0.5},{"day":171,"pun":104,"share":0.6},{"day":171,"pun":94,"share":0.7},
      {"day":173,"pun":162,"share":0.34},{"day":173,"pun":150,"share":0.28},{"day":173,"pun":138,"share":0.35},{"day":173,"pun":126,"share":0.4},{"day":173,"pun":114,"share":0.48},{"day":173,"pun":104,"share":0.55},{"day":173,"pun":96,"share":0.66},
      {"day":175,"pun":155,"share":0.3},{"day":175,"pun":142,"share":0.38},{"day":175,"pun":130,"share":0.45},{"day":175,"pun":118,"share":0.52},{"day":175,"pun":108,"share":0.6},{"day":175,"pun":98,"share":0.68},{"day":175,"pun":82,"share":0.62},{"day":175,"pun":75,"share":0.7},{"day":175,"pun":68,"share":0.65},{"day":175,"pun":50,"share":0.7},{"day":175,"pun":42,"share":0.72},
      {"day":177,"pun":160,"share":0.4},{"day":177,"pun":148,"share":0.32},{"day":177,"pun":136,"share":0.26},{"day":177,"pun":124,"share":0.38},{"day":177,"pun":112,"share":0.46},{"day":177,"pun":102,"share":0.55},{"day":177,"pun":94,"share":0.62},
      {"day":179,"pun":168,"share":0.45},{"day":179,"pun":155,"share":0.38},{"day":179,"pun":142,"share":0.3},{"day":179,"pun":130,"share":0.25},{"day":179,"pun":118,"share":0.36},{"day":179,"pun":106,"share":0.5},{"day":179,"pun":96,"share":0.62},
      {"day":181,"pun":150,"share":0.5},{"day":181,"pun":138,"share":0.42},{"day":181,"pun":126,"share":0.36},{"day":181,"pun":114,"share":0.5},{"day":181,"pun":104,"share":0.6},{"day":181,"pun":96,"share":0.68},{"day":181,"pun":90,"share":0.7},{"day":181,"pun":82,"share":0.77},{"day":181,"pun":76,"share":0.76},{"day":181,"pun":65,"share":0.6},
      {"day":183,"pun":156,"share":0.44},{"day":183,"pun":144,"share":0.38},{"day":183,"pun":132,"share":0.3},{"day":183,"pun":120,"share":0.4},{"day":183,"pun":110,"share":0.52},{"day":183,"pun":100,"share":0.6},{"day":183,"pun":68,"share":0.62},
      {"day":185,"pun":158,"share":0.38},{"day":185,"pun":146,"share":0.35},{"day":185,"pun":134,"share":0.42},{"day":185,"pun":122,"share":0.3},{"day":185,"pun":112,"share":0.45},{"day":185,"pun":102,"share":0.55},
      {"day":187,"pun":165,"share":0.36},{"day":187,"pun":152,"share":0.4},{"day":187,"pun":140,"share":0.33},{"day":187,"pun":128,"share":0.42},{"day":187,"pun":116,"share":0.28},{"day":187,"pun":106,"share":0.5},{"day":187,"pun":96,"share":0.58},
      {"day":189,"pun":174,"share":0.34},{"day":189,"pun":160,"share":0.36},{"day":189,"pun":148,"share":0.42},{"day":189,"pun":136,"share":0.38},{"day":189,"pun":124,"share":0.3},{"day":189,"pun":112,"share":0.24},{"day":189,"pun":102,"share":0.45},{"day":189,"pun":92,"share":0.6},{"day":189,"pun":84,"share":0.72},{"day":189,"pun":72,"share":0.76},{"day":189,"pun":66,"share":0.6},
      {"day":191,"pun":168,"share":0.32},{"day":191,"pun":155,"share":0.38},{"day":191,"pun":143,"share":0.44},{"day":191,"pun":130,"share":0.4},{"day":191,"pun":118,"share":0.3},{"day":191,"pun":106,"share":0.22},{"day":191,"pun":98,"share":0.35},
      {"day":193,"pun":160,"share":0.4},{"day":193,"pun":148,"share":0.36},{"day":193,"pun":136,"share":0.45},{"day":193,"pun":124,"share":0.38},{"day":193,"pun":112,"share":0.3},{"day":193,"pun":102,"share":0.25},
      {"day":195,"pun":158,"share":0.38},{"day":195,"pun":146,"share":0.42},{"day":195,"pun":134,"share":0.35},{"day":195,"pun":122,"share":0.44},{"day":195,"pun":110,"share":0.22},{"day":195,"pun":100,"share":0.3},
      {"day":197,"pun":162,"share":0.35},{"day":197,"pun":150,"share":0.4},{"day":197,"pun":138,"share":0.46},{"day":197,"pun":126,"share":0.5},{"day":197,"pun":114,"share":0.4},{"day":197,"pun":104,"share":0.24},{"day":197,"pun":90,"share":0.52},{"day":197,"pun":82,"share":0.54},
      {"day":199,"pun":205,"share":0.35},{"day":199,"pun":196,"share":0.34},{"day":199,"pun":186,"share":0.3},{"day":199,"pun":176,"share":0.33},{"day":199,"pun":165,"share":0.35},{"day":199,"pun":152,"share":0.38},{"day":199,"pun":140,"share":0.3},{"day":199,"pun":128,"share":0.42},{"day":199,"pun":116,"share":0.35},{"day":199,"pun":104,"share":0.45},
      {"day":201,"pun":170,"share":0.38},{"day":201,"pun":158,"share":0.4},{"day":201,"pun":146,"share":0.35},{"day":201,"pun":134,"share":0.3},{"day":201,"pun":122,"share":0.42},{"day":201,"pun":110,"share":0.5},{"day":201,"pun":100,"share":0.55},
      {"day":203,"pun":165,"share":0.42},{"day":203,"pun":154,"share":0.38},{"day":203,"pun":142,"share":0.35},{"day":203,"pun":130,"share":0.4},{"day":203,"pun":118,"share":0.46},{"day":203,"pun":106,"share":0.3},{"day":203,"pun":96,"share":0.4},{"day":203,"pun":78,"share":0.55},
      {"day":205,"pun":158,"share":0.4},{"day":205,"pun":146,"share":0.36},{"day":205,"pun":134,"share":0.44},{"day":205,"pun":122,"share":0.38},{"day":205,"pun":110,"share":0.5},{"day":205,"pun":100,"share":0.55},
      {"day":207,"pun":150,"share":0.38},{"day":207,"pun":138,"share":0.34},{"day":207,"pun":126,"share":0.4},{"day":207,"pun":114,"share":0.46},{"day":207,"pun":104,"share":0.52},{"day":207,"pun":94,"share":0.6},
      {"day":209,"pun":145,"share":0.42},{"day":209,"pun":134,"share":0.38},{"day":209,"pun":122,"share":0.5},{"day":209,"pun":110,"share":0.54},{"day":209,"pun":100,"share":0.56},{"day":209,"pun":88,"share":0.62},{"day":209,"pun":80,"share":0.3},{"day":209,"pun":72,"share":0.68},
      {"day":210,"pun":50,"share":0.62},{"day":210,"pun":44,"share":0.64},{"day":210,"pun":40,"share":0.66},
      {"day":211,"pun":148,"share":0.44},{"day":211,"pun":136,"share":0.4},{"day":211,"pun":124,"share":0.48},{"day":211,"pun":112,"share":0.52},{"day":211,"pun":102,"share":0.58},{"day":211,"pun":92,"share":0.6},
      {"day":213,"pun":142,"share":0.48},{"day":213,"pun":132,"share":0.52},{"day":213,"pun":122,"share":0.5},{"day":213,"pun":112,"share":0.58},{"day":213,"pun":102,"share":0.62},{"day":213,"pun":92,"share":0.68},
      {"day":215,"pun":148,"share":0.52},{"day":215,"pun":138,"share":0.56},{"day":215,"pun":128,"share":0.5},{"day":215,"pun":118,"share":0.6},{"day":215,"pun":108,"share":0.66},{"day":215,"pun":98,"share":0.72},{"day":215,"pun":88,"share":0.76},{"day":215,"pun":70,"share":0.82},{"day":215,"pun":58,"share":0.84},{"day":215,"pun":48,"share":0.84},
      {"day":217,"pun":140,"share":0.55},{"day":217,"pun":130,"share":0.5},{"day":217,"pun":120,"share":0.58},{"day":217,"pun":110,"share":0.64},{"day":217,"pun":100,"share":0.7},{"day":217,"pun":90,"share":0.76},{"day":217,"pun":80,"share":0.78},{"day":217,"pun":68,"share":0.8},
      {"day":219,"pun":145,"share":0.5},{"day":219,"pun":135,"share":0.56},{"day":219,"pun":125,"share":0.6},{"day":219,"pun":115,"share":0.66},{"day":219,"pun":105,"share":0.72},{"day":219,"pun":95,"share":0.78},{"day":219,"pun":86,"share":0.8},{"day":219,"pun":78,"share":0.78},
      {"day":221,"pun":150,"share":0.44},{"day":221,"pun":140,"share":0.52},{"day":221,"pun":130,"share":0.56},{"day":221,"pun":120,"share":0.6},{"day":221,"pun":110,"share":0.68},{"day":221,"pun":100,"share":0.74},{"day":221,"pun":90,"share":0.78},{"day":221,"pun":80,"share":0.8},{"day":221,"pun":60,"share":0.85},{"day":221,"pun":45,"share":0.85},{"day":221,"pun":40,"share":0.84},
      {"day":223,"pun":155,"share":0.45},{"day":223,"pun":144,"share":0.5},{"day":223,"pun":134,"share":0.55},{"day":223,"pun":124,"share":0.6},{"day":223,"pun":114,"share":0.66},{"day":223,"pun":104,"share":0.72},{"day":223,"pun":94,"share":0.76},{"day":223,"pun":84,"share":0.78},{"day":223,"pun":66,"share":0.76},
      {"day":225,"pun":162,"share":0.4},{"day":225,"pun":150,"share":0.44},{"day":225,"pun":138,"share":0.52},{"day":225,"pun":126,"share":0.58},{"day":225,"pun":114,"share":0.64},{"day":225,"pun":102,"share":0.7},{"day":225,"pun":92,"share":0.76},{"day":225,"pun":82,"share":0.8},{"day":225,"pun":62,"share":0.84},{"day":225,"pun":50,"share":0.8},
      {"day":227,"pun":158,"share":0.42},{"day":227,"pun":146,"share":0.48},{"day":227,"pun":134,"share":0.54},{"day":227,"pun":122,"share":0.6},{"day":227,"pun":110,"share":0.66},{"day":227,"pun":100,"share":0.72},{"day":227,"pun":90,"share":0.76},
      {"day":229,"pun":150,"share":0.46},{"day":229,"pun":140,"share":0.5},{"day":229,"pun":128,"share":0.56},{"day":229,"pun":116,"share":0.62},{"day":229,"pun":104,"share":0.68},{"day":229,"pun":94,"share":0.72},{"day":229,"pun":82,"share":0.76},{"day":229,"pun":72,"share":0.8},{"day":229,"pun":58,"share":0.76},{"day":229,"pun":50,"share":0.7},{"day":229,"pun":46,"share":0.68},
      {"day":231,"pun":160,"share":0.42},{"day":231,"pun":148,"share":0.5},{"day":231,"pun":136,"share":0.55},{"day":231,"pun":124,"share":0.6},{"day":231,"pun":112,"share":0.66},{"day":231,"pun":100,"share":0.7},{"day":231,"pun":90,"share":0.74},
      {"day":233,"pun":165,"share":0.38},{"day":233,"pun":154,"share":0.45},{"day":233,"pun":142,"share":0.5},{"day":233,"pun":130,"share":0.58},{"day":233,"pun":118,"share":0.62},{"day":233,"pun":106,"share":0.68},{"day":233,"pun":96,"share":0.7},
      {"day":235,"pun":265,"share":0.3},{"day":235,"pun":255,"share":0.32},{"day":235,"pun":248,"share":0.3},{"day":235,"pun":238,"share":0.28},{"day":235,"pun":228,"share":0.3},{"day":235,"pun":218,"share":0.32},{"day":235,"pun":208,"share":0.28},{"day":235,"pun":190,"share":0.38},{"day":235,"pun":180,"share":0.3},{"day":235,"pun":168,"share":0.24},{"day":235,"pun":156,"share":0.2},{"day":235,"pun":144,"share":0.3},{"day":235,"pun":132,"share":0.5},{"day":235,"pun":120,"share":0.6},{"day":235,"pun":108,"share":0.66},
      {"day":237,"pun":232,"share":0.3},{"day":237,"pun":222,"share":0.32},{"day":237,"pun":188,"share":0.42},{"day":237,"pun":176,"share":0.35},{"day":237,"pun":164,"share":0.26},{"day":237,"pun":152,"share":0.22},{"day":237,"pun":140,"share":0.35},{"day":237,"pun":128,"share":0.55},{"day":237,"pun":116,"share":0.62},{"day":237,"pun":104,"share":0.68},
      {"day":239,"pun":172,"share":0.45},{"day":239,"pun":160,"share":0.4},{"day":239,"pun":148,"share":0.35},{"day":239,"pun":136,"share":0.45},{"day":239,"pun":124,"share":0.55},{"day":239,"pun":112,"share":0.62},{"day":239,"pun":100,"share":0.7},
      {"day":241,"pun":165,"share":0.42},{"day":241,"pun":152,"share":0.48},{"day":241,"pun":140,"share":0.52},{"day":241,"pun":128,"share":0.55},{"day":241,"pun":116,"share":0.6},{"day":241,"pun":104,"share":0.66},{"day":241,"pun":94,"share":0.7},
      {"day":243,"pun":168,"share":0.4},{"day":243,"pun":156,"share":0.45},{"day":243,"pun":144,"share":0.5},{"day":243,"pun":132,"share":0.55},{"day":243,"pun":120,"share":0.6},{"day":243,"pun":108,"share":0.64},{"day":243,"pun":96,"share":0.7},{"day":243,"pun":86,"share":0.74},{"day":243,"pun":75,"share":0.76},{"day":243,"pun":66,"share":0.78},{"day":243,"pun":56,"share":0.72},
      {"day":245,"pun":162,"share":0.4},{"day":245,"pun":150,"share":0.45},{"day":245,"pun":138,"share":0.5},{"day":245,"pun":126,"share":0.55},{"day":245,"pun":114,"share":0.58},{"day":245,"pun":104,"share":0.64},{"day":245,"pun":90,"share":0.7},{"day":245,"pun":70,"share":0.76},{"day":245,"pun":60,"share":0.7},{"day":245,"pun":50,"share":0.65},{"day":245,"pun":45,"share":0.7},
      {"day":247,"pun":170,"share":0.35},{"day":247,"pun":158,"share":0.42},{"day":247,"pun":146,"share":0.48},{"day":247,"pun":134,"share":0.52},{"day":247,"pun":122,"share":0.56},{"day":247,"pun":110,"share":0.6},{"day":247,"pun":100,"share":0.66},
      {"day":249,"pun":176,"share":0.3},{"day":249,"pun":164,"share":0.36},{"day":249,"pun":152,"share":0.42},{"day":249,"pun":140,"share":0.45},{"day":249,"pun":128,"share":0.5},{"day":249,"pun":116,"share":0.56},{"day":249,"pun":104,"share":0.62},
      {"day":251,"pun":180,"share":0.28},{"day":251,"pun":168,"share":0.34},{"day":251,"pun":156,"share":0.4},{"day":251,"pun":144,"share":0.46},{"day":251,"pun":132,"share":0.5},{"day":251,"pun":120,"share":0.55},{"day":251,"pun":108,"share":0.6},{"day":251,"pun":66,"share":0.78},{"day":251,"pun":58,"share":0.76},{"day":251,"pun":52,"share":0.8},
      {"day":253,"pun":228,"share":0.26},{"day":253,"pun":195,"share":0.24},{"day":253,"pun":184,"share":0.3},{"day":253,"pun":172,"share":0.26},{"day":253,"pun":160,"share":0.35},{"day":253,"pun":148,"share":0.4},{"day":253,"pun":136,"share":0.44},{"day":253,"pun":124,"share":0.5},{"day":253,"pun":112,"share":0.55},
      {"day":255,"pun":221,"share":0.22},{"day":255,"pun":194,"share":0.25},{"day":255,"pun":182,"share":0.28},{"day":255,"pun":170,"share":0.3},{"day":255,"pun":158,"share":0.36},{"day":255,"pun":146,"share":0.42},{"day":255,"pun":134,"share":0.46},{"day":255,"pun":122,"share":0.5},{"day":255,"pun":110,"share":0.56},
      {"day":257,"pun":185,"share":0.3},{"day":257,"pun":174,"share":0.26},{"day":257,"pun":162,"share":0.32},{"day":257,"pun":150,"share":0.38},{"day":257,"pun":138,"share":0.44},{"day":257,"pun":126,"share":0.5},{"day":257,"pun":114,"share":0.54},{"day":257,"pun":102,"share":0.6},
      {"day":259,"pun":178,"share":0.35},{"day":259,"pun":166,"share":0.3},{"day":259,"pun":154,"share":0.4},{"day":259,"pun":142,"share":0.45},{"day":259,"pun":130,"share":0.5},{"day":259,"pun":118,"share":0.55},{"day":259,"pun":106,"share":0.6},{"day":259,"pun":88,"share":0.5},{"day":259,"pun":76,"share":0.48},
      {"day":261,"pun":195,"share":0.22},{"day":261,"pun":180,"share":0.26},{"day":261,"pun":168,"share":0.3},{"day":261,"pun":156,"share":0.36},{"day":261,"pun":144,"share":0.42},{"day":261,"pun":132,"share":0.46},{"day":261,"pun":120,"share":0.52},{"day":261,"pun":108,"share":0.58},
      {"day":263,"pun":180,"share":0.32},{"day":263,"pun":168,"share":0.36},{"day":263,"pun":156,"share":0.3},{"day":263,"pun":144,"share":0.4},{"day":263,"pun":132,"share":0.45},{"day":263,"pun":120,"share":0.5},{"day":263,"pun":108,"share":0.56},{"day":263,"pun":96,"share":0.6},
      {"day":265,"pun":178,"share":0.28},{"day":265,"pun":166,"share":0.34},{"day":265,"pun":154,"share":0.38},{"day":265,"pun":142,"share":0.42},{"day":265,"pun":130,"share":0.48},{"day":265,"pun":118,"share":0.56},{"day":265,"pun":106,"share":0.62},{"day":265,"pun":94,"share":0.66},
      {"day":267,"pun":170,"share":0.3},{"day":267,"pun":158,"share":0.36},{"day":267,"pun":146,"share":0.4},{"day":267,"pun":134,"share":0.44},{"day":267,"pun":122,"share":0.5},{"day":267,"pun":110,"share":0.58},{"day":267,"pun":98,"share":0.7},{"day":267,"pun":74,"share":0.8},{"day":267,"pun":62,"share":0.78},{"day":267,"pun":50,"share":0.76},{"day":267,"pun":42,"share":0.8},{"day":267,"pun":10,"share":0.72},
      {"day":269,"pun":195,"share":0.22},{"day":269,"pun":182,"share":0.28},{"day":269,"pun":170,"share":0.34},{"day":269,"pun":158,"share":0.4},{"day":269,"pun":146,"share":0.44},{"day":269,"pun":134,"share":0.5},{"day":269,"pun":122,"share":0.56},{"day":269,"pun":110,"share":0.6},{"day":269,"pun":100,"share":0.62},
      {"day":271,"pun":185,"share":0.3},{"day":271,"pun":172,"share":0.35},{"day":271,"pun":160,"share":0.4},{"day":271,"pun":148,"share":0.46},{"day":271,"pun":136,"share":0.5},{"day":271,"pun":124,"share":0.56},{"day":271,"pun":112,"share":0.6},{"day":271,"pun":100,"share":0.65},
      {"day":273,"pun":180,"share":0.35},{"day":273,"pun":168,"share":0.4},{"day":273,"pun":156,"share":0.45},{"day":273,"pun":144,"share":0.5},{"day":273,"pun":132,"share":0.55},{"day":273,"pun":120,"share":0.6},{"day":273,"pun":108,"share":0.66},{"day":273,"pun":62,"share":0.6},{"day":273,"pun":50,"share":0.66},{"day":273,"pun":40,"share":0.76},{"day":273,"pun":22,"share":0.8},{"day":273,"pun":16,"share":0.74},
      {"day":275,"pun":210,"share":0.34},{"day":275,"pun":190,"share":0.3},{"day":275,"pun":176,"share":0.36},{"day":275,"pun":164,"share":0.4},{"day":275,"pun":152,"share":0.46},{"day":275,"pun":140,"share":0.5},{"day":275,"pun":128,"share":0.55},{"day":275,"pun":116,"share":0.6},{"day":275,"pun":104,"share":0.64},
      {"day":277,"pun":185,"share":0.3},{"day":277,"pun":172,"share":0.36},{"day":277,"pun":160,"share":0.42},{"day":277,"pun":148,"share":0.46},{"day":277,"pun":136,"share":0.5},{"day":277,"pun":124,"share":0.54},{"day":277,"pun":112,"share":0.6},{"day":277,"pun":100,"share":0.66},
      {"day":279,"pun":190,"share":0.28},{"day":279,"pun":176,"share":0.32},{"day":279,"pun":164,"share":0.38},{"day":279,"pun":152,"share":0.44},{"day":279,"pun":140,"share":0.48},{"day":279,"pun":128,"share":0.52},{"day":279,"pun":116,"share":0.58},{"day":279,"pun":104,"share":0.6},
      {"day":281,"pun":195,"share":0.26},{"day":281,"pun":182,"share":0.3},{"day":281,"pun":170,"share":0.36},{"day":281,"pun":158,"share":0.42},{"day":281,"pun":146,"share":0.46},{"day":281,"pun":134,"share":0.5},{"day":281,"pun":122,"share":0.56},{"day":281,"pun":110,"share":0.62},{"day":281,"pun":86,"share":0.68},{"day":281,"pun":80,"share":0.55},{"day":281,"pun":70,"share":0.58},{"day":281,"pun":60,"share":0.62},
      {"day":283,"pun":200,"share":0.24},{"day":283,"pun":186,"share":0.28},{"day":283,"pun":174,"share":0.32},{"day":283,"pun":162,"share":0.38},{"day":283,"pun":150,"share":0.44},{"day":283,"pun":138,"share":0.48},{"day":283,"pun":126,"share":0.52},{"day":283,"pun":114,"share":0.58},{"day":283,"pun":102,"share":0.62},
      {"day":285,"pun":224,"share":0.24},{"day":285,"pun":212,"share":0.2},{"day":285,"pun":200,"share":0.22},{"day":285,"pun":188,"share":0.26},{"day":285,"pun":176,"share":0.3},{"day":285,"pun":164,"share":0.36},{"day":285,"pun":152,"share":0.4},{"day":285,"pun":140,"share":0.46},{"day":285,"pun":128,"share":0.5},{"day":285,"pun":116,"share":0.56},
      {"day":287,"pun":227,"share":0.25},{"day":287,"pun":215,"share":0.22},{"day":287,"pun":205,"share":0.2},{"day":287,"pun":194,"share":0.24},{"day":287,"pun":182,"share":0.28},{"day":287,"pun":170,"share":0.32},{"day":287,"pun":158,"share":0.36},{"day":287,"pun":146,"share":0.4},{"day":287,"pun":134,"share":0.5},{"day":287,"pun":122,"share":0.62},{"day":287,"pun":109,"share":0.62},{"day":287,"pun":98,"share":0.6},{"day":287,"pun":80,"share":0.6},
      {"day":289,"pun":239,"share":0.22},{"day":289,"pun":206,"share":0.2},{"day":289,"pun":196,"share":0.24},{"day":289,"pun":184,"share":0.28},{"day":289,"pun":172,"share":0.3},{"day":289,"pun":160,"share":0.34},{"day":289,"pun":148,"share":0.4},{"day":289,"pun":136,"share":0.46},{"day":289,"pun":124,"share":0.52},{"day":289,"pun":112,"share":0.58},
      {"day":291,"pun":200,"share":0.3},{"day":291,"pun":188,"share":0.34},{"day":291,"pun":176,"share":0.38},{"day":291,"pun":164,"share":0.42},{"day":291,"pun":152,"share":0.46},{"day":291,"pun":140,"share":0.5},{"day":291,"pun":128,"share":0.56},{"day":291,"pun":116,"share":0.62},{"day":291,"pun":104,"share":0.66},
      {"day":293,"pun":195,"share":0.5},{"day":293,"pun":182,"share":0.54},{"day":293,"pun":170,"share":0.56},{"day":293,"pun":158,"share":0.6},{"day":293,"pun":146,"share":0.62},{"day":293,"pun":134,"share":0.66},{"day":293,"pun":122,"share":0.7},{"day":293,"pun":110,"share":0.72},{"day":293,"pun":72,"share":0.55},{"day":293,"pun":66,"share":0.58},{"day":293,"pun":60,"share":0.62},
      {"day":295,"pun":190,"share":0.52},{"day":295,"pun":178,"share":0.56},{"day":295,"pun":166,"share":0.6},{"day":295,"pun":154,"share":0.62},{"day":295,"pun":142,"share":0.66},{"day":295,"pun":130,"share":0.68},{"day":295,"pun":118,"share":0.7},{"day":295,"pun":106,"share":0.74},
      {"day":297,"pun":185,"share":0.5},{"day":297,"pun":172,"share":0.54},{"day":297,"pun":160,"share":0.58},{"day":297,"pun":148,"share":0.62},{"day":297,"pun":136,"share":0.66},{"day":297,"pun":124,"share":0.7},{"day":297,"pun":112,"share":0.72},{"day":297,"pun":100,"share":0.76},
      {"day":299,"pun":180,"share":0.54},{"day":299,"pun":168,"share":0.58},{"day":299,"pun":156,"share":0.62},{"day":299,"pun":144,"share":0.66},{"day":299,"pun":132,"share":0.7},{"day":299,"pun":120,"share":0.72},{"day":299,"pun":108,"share":0.76},{"day":299,"pun":96,"share":0.78},{"day":299,"pun":74,"share":0.8},{"day":299,"pun":66,"share":0.78},{"day":299,"pun":58,"share":0.52},{"day":299,"pun":42,"share":0.8},{"day":299,"pun":32,"share":0.78},
      {"day":301,"pun":176,"share":0.56},{"day":301,"pun":164,"share":0.6},{"day":301,"pun":152,"share":0.64},{"day":301,"pun":140,"share":0.68},{"day":301,"pun":128,"share":0.7},{"day":301,"pun":116,"share":0.74},{"day":301,"pun":104,"share":0.78},{"day":301,"pun":92,"share":0.8},{"day":301,"pun":80,"share":0.8},
      {"day":303,"pun":184,"share":0.5},{"day":303,"pun":168,"share":0.55},{"day":303,"pun":156,"share":0.66},{"day":303,"pun":144,"share":0.7},{"day":303,"pun":132,"share":0.72},{"day":303,"pun":120,"share":0.76},{"day":303,"pun":108,"share":0.78},{"day":303,"pun":96,"share":0.8},{"day":303,"pun":84,"share":0.82},{"day":303,"pun":70,"share":0.84},{"day":303,"pun":60,"share":0.8},
      {"day":305,"pun":184,"share":0.55},{"day":305,"pun":165,"share":0.5},{"day":305,"pun":152,"share":0.62},{"day":305,"pun":140,"share":0.56},{"day":305,"pun":128,"share":0.7},{"day":305,"pun":116,"share":0.76},{"day":305,"pun":104,"share":0.8},{"day":305,"pun":92,"share":0.78},{"day":305,"pun":80,"share":0.82},{"day":305,"pun":68,"share":0.84},{"day":305,"pun":56,"share":0.8},{"day":305,"pun":46,"share":0.78},{"day":305,"pun":36,"share":0.72},{"day":305,"pun":30,"share":0.66},
      {"day":307,"pun":160,"share":0.52},{"day":307,"pun":148,"share":0.6},{"day":307,"pun":136,"share":0.64},{"day":307,"pun":124,"share":0.74},{"day":307,"pun":112,"share":0.78},{"day":307,"pun":100,"share":0.8},{"day":307,"pun":88,"share":0.82},{"day":307,"pun":76,"share":0.84},{"day":307,"pun":64,"share":0.8},{"day":307,"pun":52,"share":0.86},{"day":307,"pun":42,"share":0.84},{"day":307,"pun":30,"share":0.82},{"day":307,"pun":20,"share":0.84},{"day":307,"pun":12,"share":0.86},{"day":307,"pun":8,"share":0.86},{"day":307,"pun":3,"share":0.82},
      {"day":309,"pun":158,"share":0.5},{"day":309,"pun":146,"share":0.56},{"day":309,"pun":134,"share":0.62},{"day":309,"pun":122,"share":0.72},{"day":309,"pun":110,"share":0.76},{"day":309,"pun":98,"share":0.8},{"day":309,"pun":86,"share":0.82},{"day":309,"pun":74,"share":0.78},{"day":309,"pun":60,"share":0.7},
      {"day":311,"pun":155,"share":0.5},{"day":311,"pun":144,"share":0.55},{"day":311,"pun":132,"share":0.6},{"day":311,"pun":120,"share":0.64},{"day":311,"pun":108,"share":0.68},{"day":311,"pun":96,"share":0.72},{"day":311,"pun":86,"share":0.76},
      {"day":313,"pun":162,"share":0.45},{"day":313,"pun":150,"share":0.5},{"day":313,"pun":138,"share":0.55},{"day":313,"pun":126,"share":0.6},{"day":313,"pun":114,"share":0.64},{"day":313,"pun":104,"share":0.7},{"day":313,"pun":90,"share":0.8},{"day":313,"pun":80,"share":0.78},{"day":313,"pun":70,"share":0.8},
      {"day":315,"pun":170,"share":0.5},{"day":315,"pun":156,"share":0.44},{"day":315,"pun":144,"share":0.5},{"day":315,"pun":132,"share":0.56},{"day":315,"pun":120,"share":0.6},{"day":315,"pun":108,"share":0.66},{"day":315,"pun":98,"share":0.7},
      {"day":317,"pun":165,"share":0.42},{"day":317,"pun":152,"share":0.48},{"day":317,"pun":140,"share":0.52},{"day":317,"pun":128,"share":0.56},{"day":317,"pun":116,"share":0.6},{"day":317,"pun":104,"share":0.64},
      {"day":319,"pun":183,"share":0.4},{"day":319,"pun":170,"share":0.45},{"day":319,"pun":158,"share":0.5},{"day":319,"pun":146,"share":0.55},{"day":319,"pun":134,"share":0.58},{"day":319,"pun":122,"share":0.62},{"day":319,"pun":110,"share":0.66},
      {"day":321,"pun":168,"share":0.48},{"day":321,"pun":156,"share":0.52},{"day":321,"pun":144,"share":0.56},{"day":321,"pun":132,"share":0.6},{"day":321,"pun":120,"share":0.64},{"day":321,"pun":108,"share":0.7},{"day":321,"pun":98,"share":0.74},
      {"day":323,"pun":165,"share":0.45},{"day":323,"pun":152,"share":0.5},{"day":323,"pun":140,"share":0.55},{"day":323,"pun":128,"share":0.58},{"day":323,"pun":116,"share":0.62},{"day":323,"pun":104,"share":0.68},{"day":323,"pun":96,"share":0.72},
      {"day":325,"pun":170,"share":0.4},{"day":325,"pun":158,"share":0.36},{"day":325,"pun":146,"share":0.44},{"day":325,"pun":134,"share":0.5},{"day":325,"pun":122,"share":0.55},{"day":325,"pun":110,"share":0.6},{"day":325,"pun":100,"share":0.66},
      {"day":327,"pun":168,"share":0.38},{"day":327,"pun":156,"share":0.32},{"day":327,"pun":144,"share":0.4},{"day":327,"pun":132,"share":0.46},{"day":327,"pun":120,"share":0.52},{"day":327,"pun":108,"share":0.56},{"day":327,"pun":98,"share":0.6},{"day":327,"pun":78,"share":0.46},
      {"day":329,"pun":172,"share":0.34},{"day":329,"pun":160,"share":0.3},{"day":329,"pun":148,"share":0.38},{"day":329,"pun":136,"share":0.42},{"day":329,"pun":124,"share":0.48},{"day":329,"pun":112,"share":0.54},{"day":329,"pun":100,"share":0.58},
      {"day":331,"pun":180,"share":0.32},{"day":331,"pun":168,"share":0.28},{"day":331,"pun":156,"share":0.36},{"day":331,"pun":144,"share":0.4},{"day":331,"pun":132,"share":0.46},{"day":331,"pun":120,"share":0.5},{"day":331,"pun":108,"share":0.55},{"day":331,"pun":84,"share":0.5},
      {"day":333,"pun":236,"share":0.28},{"day":333,"pun":230,"share":0.27},{"day":333,"pun":222,"share":0.34},{"day":333,"pun":206,"share":0.32},{"day":333,"pun":198,"share":0.3},{"day":333,"pun":188,"share":0.34},{"day":333,"pun":176,"share":0.3},{"day":333,"pun":164,"share":0.26},{"day":333,"pun":152,"share":0.34},{"day":333,"pun":140,"share":0.4},{"day":333,"pun":128,"share":0.46},{"day":333,"pun":116,"share":0.52},{"day":333,"pun":104,"share":0.56},
      {"day":335,"pun":180,"share":0.26},{"day":335,"pun":168,"share":0.3},{"day":335,"pun":156,"share":0.34},{"day":335,"pun":144,"share":0.38},{"day":335,"pun":132,"share":0.42},{"day":335,"pun":120,"share":0.48},{"day":335,"pun":108,"share":0.52},{"day":335,"pun":96,"share":0.56},
      {"day":337,"pun":175,"share":0.24},{"day":337,"pun":164,"share":0.28},{"day":337,"pun":152,"share":0.32},{"day":337,"pun":140,"share":0.36},{"day":337,"pun":128,"share":0.4},{"day":337,"pun":116,"share":0.45},{"day":337,"pun":104,"share":0.5},
      {"day":339,"pun":178,"share":0.24},{"day":339,"pun":166,"share":0.22},{"day":339,"pun":154,"share":0.28},{"day":339,"pun":142,"share":0.32},{"day":339,"pun":130,"share":0.36},{"day":339,"pun":118,"share":0.4},{"day":339,"pun":106,"share":0.45},
      {"day":341,"pun":170,"share":0.26},{"day":341,"pun":158,"share":0.3},{"day":341,"pun":146,"share":0.34},{"day":341,"pun":134,"share":0.38},{"day":341,"pun":122,"share":0.44},{"day":341,"pun":110,"share":0.5},{"day":341,"pun":98,"share":0.56},
      {"day":343,"pun":160,"share":0.3},{"day":343,"pun":148,"share":0.34},{"day":343,"pun":136,"share":0.38},{"day":343,"pun":124,"share":0.42},{"day":343,"pun":112,"share":0.48},{"day":343,"pun":100,"share":0.54},{"day":343,"pun":88,"share":0.34},
      {"day":345,"pun":158,"share":0.32},{"day":345,"pun":146,"share":0.36},{"day":345,"pun":134,"share":0.4},{"day":345,"pun":122,"share":0.45},{"day":345,"pun":110,"share":0.5},{"day":345,"pun":98,"share":0.55},{"day":345,"pun":86,"share":0.4},
      {"day":347,"pun":156,"share":0.34},{"day":347,"pun":144,"share":0.38},{"day":347,"pun":132,"share":0.42},{"day":347,"pun":120,"share":0.48},{"day":347,"pun":108,"share":0.52},{"day":347,"pun":96,"share":0.58},
      {"day":349,"pun":155,"share":0.3},{"day":349,"pun":142,"share":0.28},{"day":349,"pun":130,"share":0.35},{"day":349,"pun":118,"share":0.42},{"day":349,"pun":106,"share":0.5},{"day":349,"pun":94,"share":0.58},{"day":349,"pun":84,"share":0.64},{"day":349,"pun":76,"share":0.68},{"day":349,"pun":66,"share":0.7},{"day":349,"pun":55,"share":0.56},
      {"day":351,"pun":162,"share":0.25},{"day":351,"pun":150,"share":0.28},{"day":351,"pun":138,"share":0.3},{"day":351,"pun":126,"share":0.36},{"day":351,"pun":114,"share":0.42},{"day":351,"pun":102,"share":0.5},{"day":351,"pun":92,"share":0.55},
      {"day":353,"pun":165,"share":0.32},{"day":353,"pun":156,"share":0.34},{"day":353,"pun":144,"share":0.24},{"day":353,"pun":132,"share":0.22},{"day":353,"pun":120,"share":0.3},{"day":353,"pun":108,"share":0.38},{"day":353,"pun":96,"share":0.45},{"day":353,"pun":85,"share":0.4},
      {"day":355,"pun":158,"share":0.3},{"day":355,"pun":146,"share":0.26},{"day":355,"pun":134,"share":0.22},{"day":355,"pun":122,"share":0.28},{"day":355,"pun":110,"share":0.34},{"day":355,"pun":98,"share":0.42},{"day":355,"pun":80,"share":0.5},{"day":355,"pun":60,"share":0.55},{"day":355,"pun":40,"share":0.56},{"day":355,"pun":32,"share":0.56},
      {"day":357,"pun":148,"share":0.26},{"day":357,"pun":136,"share":0.22},{"day":357,"pun":124,"share":0.26},{"day":357,"pun":112,"share":0.3},{"day":357,"pun":100,"share":0.36},{"day":357,"pun":90,"share":0.42},
      {"day":359,"pun":157,"share":0.22},{"day":359,"pun":148,"share":0.24},{"day":359,"pun":138,"share":0.2},{"day":359,"pun":126,"share":0.24},{"day":359,"pun":114,"share":0.28},{"day":359,"pun":102,"share":0.32},{"day":359,"pun":94,"share":0.38},
      {"day":361,"pun":150,"share":0.24},{"day":361,"pun":140,"share":0.22},{"day":361,"pun":128,"share":0.26},{"day":361,"pun":116,"share":0.3},{"day":361,"pun":104,"share":0.34},{"day":361,"pun":96,"share":0.38},
      {"day":363,"pun":135,"share":0.38},{"day":363,"pun":124,"share":0.34},{"day":363,"pun":112,"share":0.3},{"day":363,"pun":102,"share":0.28},{"day":363,"pun":94,"share":0.34},
      {"day":364.5,"pun":130,"share":0.4},{"day":364.5,"pun":118,"share":0.36},{"day":364.5,"pun":108,"share":0.3},{"day":364.5,"pun":98,"share":0.32},
      {"day":3,"pun":218,"share":0.26},{"day":3,"pun":204,"share":0.24},{"day":3,"pun":188,"share":0.32},{"day":3,"pun":174,"share":0.36},{"day":3,"pun":158,"share":0.42},
      {"day":5,"pun":214,"share":0.22},{"day":5,"pun":200,"share":0.28},{"day":5,"pun":184,"share":0.3},{"day":5,"pun":168,"share":0.4},{"day":5,"pun":152,"share":0.46},
      {"day":7,"pun":228,"share":0.3},{"day":7,"pun":212,"share":0.26},{"day":7,"pun":196,"share":0.34},{"day":7,"pun":180,"share":0.4},{"day":7,"pun":164,"share":0.5},
      {"day":9,"pun":222,"share":0.28},{"day":9,"pun":206,"share":0.33},{"day":9,"pun":190,"share":0.36},{"day":9,"pun":174,"share":0.42},{"day":9,"pun":158,"share":0.5},
      {"day":11,"pun":216,"share":0.3},{"day":11,"pun":200,"share":0.28},{"day":11,"pun":184,"share":0.38},{"day":11,"pun":168,"share":0.44},{"day":11,"pun":150,"share":0.5},
      {"day":13,"pun":226,"share":0.32},{"day":13,"pun":210,"share":0.28},{"day":13,"pun":194,"share":0.3},{"day":13,"pun":178,"share":0.4},{"day":13,"pun":162,"share":0.46},
      {"day":15,"pun":218,"share":0.26},{"day":15,"pun":202,"share":0.3},{"day":15,"pun":186,"share":0.36},{"day":15,"pun":170,"share":0.42},{"day":15,"pun":154,"share":0.48},
      {"day":17,"pun":212,"share":0.3},{"day":17,"pun":196,"share":0.26},{"day":17,"pun":180,"share":0.4},{"day":17,"pun":164,"share":0.44},{"day":17,"pun":148,"share":0.5},
      {"day":19,"pun":222,"share":0.24},{"day":19,"pun":206,"share":0.3},{"day":19,"pun":190,"share":0.33},{"day":19,"pun":174,"share":0.38},{"day":19,"pun":158,"share":0.45},
      {"day":21,"pun":216,"share":0.22},{"day":21,"pun":200,"share":0.26},{"day":21,"pun":184,"share":0.32},{"day":21,"pun":168,"share":0.36},{"day":21,"pun":152,"share":0.42},
      {"day":23,"pun":220,"share":0.24},{"day":23,"pun":204,"share":0.22},{"day":23,"pun":188,"share":0.28},{"day":23,"pun":172,"share":0.35},{"day":23,"pun":156,"share":0.4},
      {"day":25,"pun":214,"share":0.27},{"day":25,"pun":198,"share":0.22},{"day":25,"pun":182,"share":0.3},{"day":25,"pun":166,"share":0.34},{"day":25,"pun":150,"share":0.44},
      {"day":27,"pun":222,"share":0.25},{"day":27,"pun":206,"share":0.28},{"day":27,"pun":192,"share":0.24},{"day":27,"pun":178,"share":0.33},{"day":27,"pun":164,"share":0.4},
      {"day":29,"pun":226,"share":0.24},{"day":29,"pun":210,"share":0.26},{"day":29,"pun":194,"share":0.2},{"day":29,"pun":180,"share":0.32},{"day":29,"pun":166,"share":0.42},
      {"day":32,"pun":238,"share":0.28},{"day":32,"pun":220,"share":0.24},{"day":32,"pun":204,"share":0.22},{"day":32,"pun":188,"share":0.26},{"day":32,"pun":172,"share":0.32},{"day":32,"pun":156,"share":0.4},
      {"day":34,"pun":232,"share":0.26},{"day":34,"pun":214,"share":0.2},{"day":34,"pun":198,"share":0.28},{"day":34,"pun":182,"share":0.24},{"day":34,"pun":166,"share":0.36},{"day":34,"pun":150,"share":0.44},
      {"day":36,"pun":228,"share":0.24},{"day":36,"pun":212,"share":0.26},{"day":36,"pun":196,"share":0.2},{"day":36,"pun":180,"share":0.3},{"day":36,"pun":164,"share":0.38},{"day":36,"pun":148,"share":0.48},
      {"day":38,"pun":234,"share":0.3},{"day":38,"pun":218,"share":0.22},{"day":38,"pun":202,"share":0.24},{"day":38,"pun":186,"share":0.2},{"day":38,"pun":170,"share":0.28},{"day":38,"pun":154,"share":0.36},
      {"day":40,"pun":236,"share":0.26},{"day":40,"pun":220,"share":0.2},{"day":40,"pun":204,"share":0.24},{"day":40,"pun":188,"share":0.22},{"day":40,"pun":172,"share":0.3},{"day":40,"pun":156,"share":0.34},
      {"day":42,"pun":218,"share":0.22},{"day":42,"pun":200,"share":0.2},{"day":42,"pun":184,"share":0.26},{"day":42,"pun":168,"share":0.2},{"day":42,"pun":152,"share":0.3},{"day":42,"pun":138,"share":0.4},
      {"day":44,"pun":216,"share":0.26},{"day":44,"pun":200,"share":0.22},{"day":44,"pun":184,"share":0.18},{"day":44,"pun":168,"share":0.26},{"day":44,"pun":152,"share":0.28},{"day":44,"pun":138,"share":0.42},
      {"day":46,"pun":222,"share":0.2},{"day":46,"pun":206,"share":0.24},{"day":46,"pun":190,"share":0.22},{"day":46,"pun":174,"share":0.18},{"day":46,"pun":158,"share":0.32},{"day":46,"pun":144,"share":0.38},
      {"day":48,"pun":214,"share":0.28},{"day":48,"pun":198,"share":0.2},{"day":48,"pun":182,"share":0.24},{"day":48,"pun":166,"share":0.26},{"day":48,"pun":152,"share":0.34},{"day":48,"pun":138,"share":0.42},
      {"day":50,"pun":226,"share":0.22},{"day":50,"pun":210,"share":0.26},{"day":50,"pun":194,"share":0.2},{"day":50,"pun":178,"share":0.22},{"day":50,"pun":162,"share":0.3},{"day":50,"pun":148,"share":0.36},
      {"day":52,"pun":218,"share":0.26},{"day":52,"pun":202,"share":0.24},{"day":52,"pun":186,"share":0.2},{"day":52,"pun":170,"share":0.26},{"day":52,"pun":156,"share":0.32},{"day":52,"pun":142,"share":0.4},
      {"day":54,"pun":230,"share":0.24},{"day":54,"pun":206,"share":0.22},{"day":54,"pun":190,"share":0.26},{"day":54,"pun":174,"share":0.2},{"day":54,"pun":160,"share":0.28},{"day":54,"pun":146,"share":0.38},
      {"day":58,"pun":214,"share":0.26},{"day":58,"pun":198,"share":0.22},{"day":58,"pun":182,"share":0.2},{"day":58,"pun":168,"share":0.3},{"day":58,"pun":152,"share":0.36},{"day":58,"pun":138,"share":0.44},
      {"day":60,"pun":226,"share":0.28},{"day":60,"pun":214,"share":0.22},{"day":60,"pun":198,"share":0.24},{"day":60,"pun":182,"share":0.2},{"day":60,"pun":168,"share":0.3},{"day":60,"pun":152,"share":0.38},{"day":60,"pun":138,"share":0.42},{"day":60,"pun":126,"share":0.48},
      {"day":62,"pun":220,"share":0.26},{"day":62,"pun":204,"share":0.22},{"day":62,"pun":188,"share":0.24},{"day":62,"pun":172,"share":0.2},{"day":62,"pun":158,"share":0.26},{"day":62,"pun":144,"share":0.42},{"day":62,"pun":130,"share":0.45},
      {"day":64,"pun":226,"share":0.24},{"day":64,"pun":208,"share":0.26},{"day":64,"pun":192,"share":0.2},{"day":64,"pun":176,"share":0.28},{"day":64,"pun":160,"share":0.32},{"day":64,"pun":146,"share":0.44},{"day":64,"pun":132,"share":0.5},
      {"day":66,"pun":218,"share":0.3},{"day":66,"pun":200,"share":0.24},{"day":66,"pun":184,"share":0.22},{"day":66,"pun":168,"share":0.28},{"day":66,"pun":152,"share":0.36},{"day":66,"pun":138,"share":0.46},{"day":66,"pun":124,"share":0.52},
      {"day":68,"pun":214,"share":0.28},{"day":68,"pun":198,"share":0.22},{"day":68,"pun":182,"share":0.25},{"day":68,"pun":166,"share":0.2},{"day":68,"pun":150,"share":0.34},{"day":68,"pun":136,"share":0.45},{"day":68,"pun":122,"share":0.55},
      {"day":70,"pun":206,"share":0.3},{"day":70,"pun":190,"share":0.24},{"day":70,"pun":174,"share":0.22},{"day":70,"pun":160,"share":0.28},{"day":70,"pun":146,"share":0.4},{"day":70,"pun":132,"share":0.48},{"day":70,"pun":118,"share":0.58},
      {"day":72,"pun":208,"share":0.26},{"day":72,"pun":192,"share":0.2},{"day":72,"pun":176,"share":0.26},{"day":72,"pun":162,"share":0.3},{"day":72,"pun":148,"share":0.4},{"day":72,"pun":134,"share":0.5},{"day":72,"pun":120,"share":0.56},
      {"day":74,"pun":204,"share":0.3},{"day":74,"pun":188,"share":0.24},{"day":74,"pun":172,"share":0.2},{"day":74,"pun":158,"share":0.32},{"day":74,"pun":144,"share":0.42},{"day":74,"pun":130,"share":0.5},{"day":74,"pun":116,"share":0.58},
      {"day":76,"pun":206,"share":0.26},{"day":76,"pun":190,"share":0.3},{"day":76,"pun":174,"share":0.22},{"day":76,"pun":160,"share":0.26},{"day":76,"pun":146,"share":0.38},{"day":76,"pun":132,"share":0.44},{"day":76,"pun":118,"share":0.56},
      {"day":78,"pun":198,"share":0.32},{"day":78,"pun":184,"share":0.24},{"day":78,"pun":168,"share":0.2},{"day":78,"pun":154,"share":0.3},{"day":78,"pun":140,"share":0.4},{"day":78,"pun":126,"share":0.46},{"day":78,"pun":112,"share":0.6},
      {"day":80,"pun":202,"share":0.28},{"day":80,"pun":186,"share":0.22},{"day":80,"pun":170,"share":0.26},{"day":80,"pun":156,"share":0.34},{"day":80,"pun":142,"share":0.44},{"day":80,"pun":128,"share":0.5},{"day":80,"pun":114,"share":0.6},
      {"day":82,"pun":204,"share":0.34},{"day":82,"pun":188,"share":0.28},{"day":82,"pun":172,"share":0.22},{"day":82,"pun":156,"share":0.3},{"day":82,"pun":140,"share":0.4},{"day":82,"pun":126,"share":0.52},{"day":82,"pun":112,"share":0.62},
      {"day":86,"pun":212,"share":0.35},{"day":86,"pun":196,"share":0.3},{"day":86,"pun":178,"share":0.26},{"day":86,"pun":162,"share":0.3},{"day":86,"pun":146,"share":0.44},{"day":86,"pun":132,"share":0.52},{"day":86,"pun":116,"share":0.62},
      {"day":88,"pun":210,"share":0.36},{"day":88,"pun":194,"share":0.3},{"day":88,"pun":178,"share":0.28},{"day":88,"pun":162,"share":0.34},{"day":88,"pun":146,"share":0.44},{"day":88,"pun":132,"share":0.55},{"day":88,"pun":118,"share":0.62},
      {"day":92,"pun":218,"share":0.38},{"day":92,"pun":202,"share":0.33},{"day":92,"pun":186,"share":0.28},{"day":92,"pun":170,"share":0.36},{"day":92,"pun":154,"share":0.42},{"day":92,"pun":140,"share":0.5},{"day":92,"pun":126,"share":0.58},{"day":92,"pun":112,"share":0.65},
      {"day":94,"pun":216,"share":0.4},{"day":94,"pun":200,"share":0.34},{"day":94,"pun":184,"share":0.3},{"day":94,"pun":168,"share":0.38},{"day":94,"pun":154,"share":0.44},{"day":94,"pun":140,"share":0.52},{"day":94,"pun":126,"share":0.6},{"day":94,"pun":112,"share":0.66},
      {"day":96,"pun":220,"share":0.36},{"day":96,"pun":204,"share":0.4},{"day":96,"pun":188,"share":0.32},{"day":96,"pun":172,"share":0.36},{"day":96,"pun":158,"share":0.46},{"day":96,"pun":144,"share":0.5},{"day":96,"pun":130,"share":0.58},{"day":96,"pun":116,"share":0.64},
      {"day":98,"pun":220,"share":0.44},{"day":98,"pun":204,"share":0.36},{"day":98,"pun":188,"share":0.3},{"day":98,"pun":172,"share":0.4},{"day":98,"pun":158,"share":0.44},{"day":98,"pun":144,"share":0.52},{"day":98,"pun":130,"share":0.6},{"day":98,"pun":116,"share":0.66},
      {"day":100,"pun":212,"share":0.38},{"day":100,"pun":196,"share":0.32},{"day":100,"pun":180,"share":0.28},{"day":100,"pun":166,"share":0.38},{"day":100,"pun":152,"share":0.46},{"day":100,"pun":138,"share":0.54},{"day":100,"pun":124,"share":0.6},{"day":100,"pun":110,"share":0.66},
      {"day":102,"pun":206,"share":0.36},{"day":102,"pun":190,"share":0.3},{"day":102,"pun":176,"share":0.42},{"day":102,"pun":162,"share":0.36},{"day":102,"pun":148,"share":0.48},{"day":102,"pun":134,"share":0.56},{"day":102,"pun":120,"share":0.62},{"day":102,"pun":106,"share":0.68},
      {"day":104,"pun":210,"share":0.32},{"day":104,"pun":194,"share":0.28},{"day":104,"pun":178,"share":0.4},{"day":104,"pun":164,"share":0.44},{"day":104,"pun":150,"share":0.5},{"day":104,"pun":136,"share":0.58},{"day":104,"pun":122,"share":0.62},{"day":104,"pun":108,"share":0.68},
      {"day":106,"pun":208,"share":0.38},{"day":106,"pun":192,"share":0.34},{"day":106,"pun":178,"share":0.3},{"day":106,"pun":164,"share":0.42},{"day":106,"pun":150,"share":0.48},{"day":106,"pun":136,"share":0.56},{"day":106,"pun":122,"share":0.62},{"day":106,"pun":108,"share":0.68},
      {"day":108,"pun":196,"share":0.3},{"day":108,"pun":182,"share":0.4},{"day":108,"pun":168,"share":0.36},{"day":108,"pun":154,"share":0.44},{"day":108,"pun":140,"share":0.52},{"day":108,"pun":126,"share":0.6},{"day":108,"pun":112,"share":0.66},{"day":108,"pun":100,"share":0.7},
      {"day":110,"pun":194,"share":0.34},{"day":110,"pun":180,"share":0.4},{"day":110,"pun":166,"share":0.38},{"day":110,"pun":152,"share":0.46},{"day":110,"pun":138,"share":0.54},{"day":110,"pun":124,"share":0.6},{"day":110,"pun":110,"share":0.66},{"day":110,"pun":96,"share":0.7},
      {"day":112,"pun":190,"share":0.38},{"day":112,"pun":176,"share":0.32},{"day":112,"pun":162,"share":0.4},{"day":112,"pun":148,"share":0.46},{"day":112,"pun":134,"share":0.56},{"day":112,"pun":120,"share":0.62},{"day":112,"pun":106,"share":0.68},
      {"day":114,"pun":196,"share":0.36},{"day":114,"pun":182,"share":0.3},{"day":114,"pun":168,"share":0.42},{"day":114,"pun":154,"share":0.46},{"day":114,"pun":140,"share":0.54},{"day":114,"pun":126,"share":0.6},{"day":114,"pun":112,"share":0.66},{"day":114,"pun":98,"share":0.7},
      {"day":116,"pun":190,"share":0.38},{"day":116,"pun":176,"share":0.42},{"day":116,"pun":162,"share":0.36},{"day":116,"pun":148,"share":0.48},{"day":116,"pun":134,"share":0.56},{"day":116,"pun":120,"share":0.6},{"day":116,"pun":106,"share":0.66},
      {"day":118,"pun":186,"share":0.4},{"day":118,"pun":172,"share":0.36},{"day":118,"pun":158,"share":0.44},{"day":118,"pun":144,"share":0.5},{"day":118,"pun":130,"share":0.56},{"day":118,"pun":116,"share":0.62},{"day":118,"pun":102,"share":0.68},
      {"day":120,"pun":176,"share":0.4},{"day":120,"pun":162,"share":0.44},{"day":120,"pun":148,"share":0.4},{"day":120,"pun":134,"share":0.5},{"day":120,"pun":120,"share":0.58},{"day":120,"pun":108,"share":0.64},{"day":120,"pun":96,"share":0.7},
      {"day":122,"pun":174,"share":0.44},{"day":122,"pun":160,"share":0.4},{"day":122,"pun":146,"share":0.46},{"day":122,"pun":132,"share":0.5},{"day":122,"pun":118,"share":0.58},{"day":122,"pun":106,"share":0.64},{"day":122,"pun":94,"share":0.7},
      {"day":124,"pun":170,"share":0.42},{"day":124,"pun":158,"share":0.46},{"day":124,"pun":144,"share":0.42},{"day":124,"pun":130,"share":0.5},{"day":124,"pun":118,"share":0.56},{"day":124,"pun":106,"share":0.62},{"day":124,"pun":96,"share":0.7},
      {"day":126,"pun":178,"share":0.4},{"day":126,"pun":164,"share":0.44},{"day":126,"pun":150,"share":0.4},{"day":126,"pun":138,"share":0.48},{"day":126,"pun":124,"share":0.54},{"day":126,"pun":112,"share":0.6},{"day":126,"pun":100,"share":0.66},{"day":126,"pun":90,"share":0.72},
      {"day":128,"pun":180,"share":0.38},{"day":128,"pun":166,"share":0.42},{"day":128,"pun":152,"share":0.46},{"day":128,"pun":140,"share":0.44},{"day":128,"pun":128,"share":0.52},{"day":128,"pun":116,"share":0.58},{"day":128,"pun":104,"share":0.64},{"day":128,"pun":92,"share":0.7},
      {"day":130,"pun":170,"share":0.44},{"day":130,"pun":156,"share":0.48},{"day":130,"pun":144,"share":0.44},{"day":130,"pun":132,"share":0.5},{"day":130,"pun":120,"share":0.56},{"day":130,"pun":108,"share":0.62},{"day":130,"pun":96,"share":0.68},
      {"day":132,"pun":164,"share":0.46},{"day":132,"pun":150,"share":0.42},{"day":132,"pun":138,"share":0.5},{"day":132,"pun":126,"share":0.54},{"day":132,"pun":114,"share":0.6},{"day":132,"pun":102,"share":0.66},{"day":132,"pun":90,"share":0.72},
      {"day":134,"pun":166,"share":0.42},{"day":134,"pun":152,"share":0.48},{"day":134,"pun":140,"share":0.44},{"day":134,"pun":128,"share":0.52},{"day":134,"pun":116,"share":0.58},{"day":134,"pun":104,"share":0.64},{"day":134,"pun":92,"share":0.7},
      {"day":136,"pun":168,"share":0.44},{"day":136,"pun":154,"share":0.4},{"day":136,"pun":142,"share":0.48},{"day":136,"pun":130,"share":0.54},{"day":136,"pun":118,"share":0.6},{"day":136,"pun":106,"share":0.66},{"day":136,"pun":94,"share":0.7},
      {"day":138,"pun":156,"share":0.44},{"day":138,"pun":144,"share":0.5},{"day":138,"pun":132,"share":0.46},{"day":138,"pun":120,"share":0.56},{"day":138,"pun":108,"share":0.6},{"day":138,"pun":96,"share":0.68},{"day":138,"pun":86,"share":0.72},
      {"day":142,"pun":162,"share":0.42},{"day":142,"pun":148,"share":0.46},{"day":142,"pun":136,"share":0.52},{"day":142,"pun":124,"share":0.5},{"day":142,"pun":112,"share":0.58},{"day":142,"pun":100,"share":0.66},{"day":142,"pun":90,"share":0.74},
      {"day":144,"pun":152,"share":0.46},{"day":144,"pun":140,"share":0.5},{"day":144,"pun":128,"share":0.48},{"day":144,"pun":116,"share":0.56},{"day":144,"pun":104,"share":0.64},{"day":144,"pun":92,"share":0.72},
      {"day":146,"pun":154,"share":0.44},{"day":146,"pun":142,"share":0.5},{"day":146,"pun":130,"share":0.46},{"day":146,"pun":118,"share":0.56},{"day":146,"pun":106,"share":0.62},{"day":146,"pun":94,"share":0.7},{"day":146,"pun":84,"share":0.78},
      {"day":148,"pun":152,"share":0.46},{"day":148,"pun":140,"share":0.44},{"day":148,"pun":128,"share":0.5},{"day":148,"pun":116,"share":0.58},{"day":148,"pun":104,"share":0.64},{"day":148,"pun":92,"share":0.72},
      {"day":150,"pun":146,"share":0.44},{"day":150,"pun":134,"share":0.48},{"day":150,"pun":122,"share":0.52},{"day":150,"pun":110,"share":0.58},{"day":150,"pun":98,"share":0.66},{"day":150,"pun":88,"share":0.72},
      {"day":152,"pun":142,"share":0.44},{"day":152,"pun":130,"share":0.48},{"day":152,"pun":118,"share":0.5},{"day":152,"pun":106,"share":0.56},{"day":152,"pun":96,"share":0.64},{"day":152,"pun":86,"share":0.72},
      {"day":156,"pun":136,"share":0.42},{"day":156,"pun":124,"share":0.46},{"day":156,"pun":112,"share":0.52},{"day":156,"pun":100,"share":0.58},{"day":156,"pun":90,"share":0.66},
      {"day":158,"pun":138,"share":0.44},{"day":158,"pun":126,"share":0.42},{"day":158,"pun":114,"share":0.48},{"day":158,"pun":104,"share":0.56},{"day":158,"pun":94,"share":0.64},{"day":158,"pun":84,"share":0.72},
      {"day":160,"pun":140,"share":0.4},{"day":160,"pun":128,"share":0.44},{"day":160,"pun":116,"share":0.48},{"day":160,"pun":106,"share":0.56},{"day":160,"pun":96,"share":0.62},{"day":160,"pun":86,"share":0.7},
      {"day":162,"pun":144,"share":0.42},{"day":162,"pun":132,"share":0.46},{"day":162,"pun":120,"share":0.5},{"day":162,"pun":110,"share":0.56},{"day":162,"pun":100,"share":0.62},{"day":162,"pun":90,"share":0.7},
      {"day":164,"pun":156,"share":0.44},{"day":164,"pun":144,"share":0.48},{"day":164,"pun":132,"share":0.5},{"day":164,"pun":120,"share":0.54},{"day":164,"pun":110,"share":0.6},{"day":164,"pun":100,"share":0.66},{"day":164,"pun":90,"share":0.74},
      {"day":166,"pun":162,"share":0.42},{"day":166,"pun":150,"share":0.4},{"day":166,"pun":138,"share":0.46},{"day":166,"pun":126,"share":0.52},{"day":166,"pun":114,"share":0.6},{"day":166,"pun":104,"share":0.68},{"day":166,"pun":94,"share":0.76},
      {"day":168,"pun":166,"share":0.36},{"day":168,"pun":154,"share":0.34},{"day":168,"pun":142,"share":0.4},{"day":168,"pun":130,"share":0.46},{"day":168,"pun":118,"share":0.52},{"day":168,"pun":106,"share":0.62},{"day":168,"pun":96,"share":0.72},
      {"day":170,"pun":176,"share":0.32},{"day":170,"pun":162,"share":0.34},{"day":170,"pun":150,"share":0.38},{"day":170,"pun":138,"share":0.42},{"day":170,"pun":126,"share":0.48},{"day":170,"pun":114,"share":0.56},{"day":170,"pun":102,"share":0.64},
      {"day":172,"pun":170,"share":0.32},{"day":172,"pun":156,"share":0.3},{"day":172,"pun":144,"share":0.36},{"day":172,"pun":132,"share":0.42},{"day":172,"pun":120,"share":0.48},{"day":172,"pun":108,"share":0.56},{"day":172,"pun":98,"share":0.66},
      {"day":174,"pun":160,"share":0.32},{"day":174,"pun":148,"share":0.36},{"day":174,"pun":136,"share":0.4},{"day":174,"pun":124,"share":0.46},{"day":174,"pun":112,"share":0.52},{"day":174,"pun":102,"share":0.6},
      {"day":176,"pun":156,"share":0.36},{"day":176,"pun":144,"share":0.3},{"day":176,"pun":132,"share":0.4},{"day":176,"pun":120,"share":0.46},{"day":176,"pun":110,"share":0.52},{"day":176,"pun":100,"share":0.6},
      {"day":178,"pun":162,"share":0.4},{"day":178,"pun":150,"share":0.34},{"day":178,"pun":138,"share":0.28},{"day":178,"pun":126,"share":0.34},{"day":178,"pun":114,"share":0.44},{"day":178,"pun":104,"share":0.52},{"day":178,"pun":94,"share":0.62},
      {"day":180,"pun":160,"share":0.44},{"day":180,"pun":148,"share":0.4},{"day":180,"pun":136,"share":0.32},{"day":180,"pun":124,"share":0.3},{"day":180,"pun":112,"share":0.42},{"day":180,"pun":102,"share":0.56},
      {"day":182,"pun":152,"share":0.44},{"day":182,"pun":140,"share":0.4},{"day":182,"pun":128,"share":0.34},{"day":182,"pun":116,"share":0.45},{"day":182,"pun":106,"share":0.55},{"day":182,"pun":96,"share":0.64},
      {"day":184,"pun":160,"share":0.4},{"day":184,"pun":148,"share":0.36},{"day":184,"pun":136,"share":0.4},{"day":184,"pun":124,"share":0.32},{"day":184,"pun":114,"share":0.46},{"day":184,"pun":104,"share":0.56},
      {"day":186,"pun":162,"share":0.38},{"day":186,"pun":150,"share":0.42},{"day":186,"pun":138,"share":0.36},{"day":186,"pun":126,"share":0.3},{"day":186,"pun":114,"share":0.4},{"day":186,"pun":104,"share":0.52},
      {"day":188,"pun":168,"share":0.36},{"day":188,"pun":156,"share":0.4},{"day":188,"pun":144,"share":0.36},{"day":188,"pun":132,"share":0.44},{"day":188,"pun":120,"share":0.3},{"day":188,"pun":108,"share":0.26},{"day":188,"pun":98,"share":0.5},
      {"day":190,"pun":170,"share":0.34},{"day":190,"pun":158,"share":0.4},{"day":190,"pun":146,"share":0.36},{"day":190,"pun":134,"share":0.42},{"day":190,"pun":122,"share":0.28},{"day":190,"pun":110,"share":0.22},{"day":190,"pun":100,"share":0.4},
      {"day":192,"pun":164,"share":0.36},{"day":192,"pun":152,"share":0.4},{"day":192,"pun":140,"share":0.42},{"day":192,"pun":128,"share":0.36},{"day":192,"pun":116,"share":0.26},{"day":192,"pun":104,"share":0.3},
      {"day":194,"pun":158,"share":0.4},{"day":194,"pun":146,"share":0.38},{"day":194,"pun":134,"share":0.42},{"day":194,"pun":122,"share":0.34},{"day":194,"pun":110,"share":0.26},{"day":194,"pun":100,"share":0.35},
      {"day":196,"pun":160,"share":0.36},{"day":196,"pun":148,"share":0.42},{"day":196,"pun":136,"share":0.38},{"day":196,"pun":124,"share":0.46},{"day":196,"pun":112,"share":0.3},{"day":196,"pun":102,"share":0.28},
      {"day":198,"pun":172,"share":0.34},{"day":198,"pun":160,"share":0.38},{"day":198,"pun":148,"share":0.36},{"day":198,"pun":136,"share":0.42},{"day":198,"pun":124,"share":0.4},{"day":198,"pun":112,"share":0.3},{"day":198,"pun":100,"share":0.4},
      {"day":200,"pun":178,"share":0.36},{"day":200,"pun":164,"share":0.38},{"day":200,"pun":152,"share":0.34},{"day":200,"pun":140,"share":0.4},{"day":200,"pun":128,"share":0.36},{"day":200,"pun":116,"share":0.44},{"day":200,"pun":104,"share":0.5},
      {"day":202,"pun":166,"share":0.4},{"day":202,"pun":154,"share":0.36},{"day":202,"pun":142,"share":0.42},{"day":202,"pun":130,"share":0.36},{"day":202,"pun":118,"share":0.44},{"day":202,"pun":106,"share":0.5},
      {"day":204,"pun":160,"share":0.38},{"day":204,"pun":148,"share":0.42},{"day":204,"pun":136,"share":0.4},{"day":204,"pun":124,"share":0.46},{"day":204,"pun":112,"share":0.4},{"day":204,"pun":100,"share":0.5},
      {"day":206,"pun":154,"share":0.4},{"day":206,"pun":142,"share":0.38},{"day":206,"pun":130,"share":0.44},{"day":206,"pun":118,"share":0.42},{"day":206,"pun":106,"share":0.52},{"day":206,"pun":96,"share":0.58},
      {"day":208,"pun":148,"share":0.4},{"day":208,"pun":136,"share":0.42},{"day":208,"pun":124,"share":0.46},{"day":208,"pun":112,"share":0.5},{"day":208,"pun":102,"share":0.56},{"day":208,"pun":92,"share":0.62},
      {"day":210,"pun":146,"share":0.42},{"day":210,"pun":134,"share":0.46},{"day":210,"pun":122,"share":0.5},{"day":210,"pun":110,"share":0.54},{"day":210,"pun":100,"share":0.6},
      {"day":212,"pun":144,"share":0.44},{"day":212,"pun":134,"share":0.48},{"day":212,"pun":124,"share":0.52},{"day":212,"pun":114,"share":0.56},{"day":212,"pun":104,"share":0.62},{"day":212,"pun":94,"share":0.68},
      {"day":214,"pun":146,"share":0.46},{"day":214,"pun":136,"share":0.5},{"day":214,"pun":126,"share":0.54},{"day":214,"pun":116,"share":0.58},{"day":214,"pun":106,"share":0.64},{"day":214,"pun":96,"share":0.7},
      {"day":216,"pun":144,"share":0.48},{"day":216,"pun":134,"share":0.44},{"day":216,"pun":124,"share":0.54},{"day":216,"pun":114,"share":0.6},{"day":216,"pun":104,"share":0.66},{"day":216,"pun":94,"share":0.72},{"day":216,"pun":84,"share":0.78},
      {"day":218,"pun":142,"share":0.44},{"day":218,"pun":132,"share":0.5},{"day":218,"pun":122,"share":0.56},{"day":218,"pun":112,"share":0.62},{"day":218,"pun":102,"share":0.68},{"day":218,"pun":92,"share":0.74},
      {"day":220,"pun":146,"share":0.42},{"day":220,"pun":136,"share":0.48},{"day":220,"pun":126,"share":0.54},{"day":220,"pun":116,"share":0.6},{"day":220,"pun":106,"share":0.66},{"day":220,"pun":96,"share":0.74},{"day":220,"pun":86,"share":0.8},
      {"day":222,"pun":152,"share":0.4},{"day":222,"pun":142,"share":0.46},{"day":222,"pun":132,"share":0.52},{"day":222,"pun":122,"share":0.58},{"day":222,"pun":112,"share":0.64},{"day":222,"pun":102,"share":0.7},{"day":222,"pun":92,"share":0.76},
      {"day":224,"pun":158,"share":0.38},{"day":224,"pun":146,"share":0.44},{"day":224,"pun":136,"share":0.5},{"day":224,"pun":124,"share":0.56},{"day":224,"pun":112,"share":0.62},{"day":224,"pun":102,"share":0.7},{"day":224,"pun":92,"share":0.76},
      {"day":226,"pun":160,"share":0.4},{"day":226,"pun":148,"share":0.46},{"day":226,"pun":136,"share":0.5},{"day":226,"pun":124,"share":0.56},{"day":226,"pun":112,"share":0.62},{"day":226,"pun":102,"share":0.68},{"day":226,"pun":92,"share":0.74},
      {"day":228,"pun":154,"share":0.42},{"day":228,"pun":144,"share":0.46},{"day":228,"pun":132,"share":0.52},{"day":228,"pun":120,"share":0.58},{"day":228,"pun":108,"share":0.64},{"day":228,"pun":98,"share":0.7},{"day":228,"pun":88,"share":0.76},
      {"day":230,"pun":156,"share":0.4},{"day":230,"pun":144,"share":0.46},{"day":230,"pun":132,"share":0.52},{"day":230,"pun":120,"share":0.58},{"day":230,"pun":108,"share":0.64},{"day":230,"pun":98,"share":0.7},
      {"day":232,"pun":162,"share":0.38},{"day":232,"pun":150,"share":0.44},{"day":232,"pun":138,"share":0.5},{"day":232,"pun":126,"share":0.56},{"day":232,"pun":114,"share":0.62},{"day":232,"pun":104,"share":0.68},{"day":232,"pun":94,"share":0.72},
      {"day":234,"pun":198,"share":0.36},{"day":234,"pun":182,"share":0.3},{"day":234,"pun":170,"share":0.26},{"day":234,"pun":158,"share":0.34},{"day":234,"pun":146,"share":0.42},{"day":234,"pun":134,"share":0.5},{"day":234,"pun":122,"share":0.58},{"day":234,"pun":110,"share":0.64},
      {"day":236,"pun":200,"share":0.34},{"day":236,"pun":182,"share":0.3},{"day":236,"pun":170,"share":0.28},{"day":236,"pun":158,"share":0.3},{"day":236,"pun":146,"share":0.4},{"day":236,"pun":134,"share":0.5},{"day":236,"pun":122,"share":0.58},{"day":236,"pun":110,"share":0.66},
      {"day":238,"pun":178,"share":0.4},{"day":238,"pun":166,"share":0.36},{"day":238,"pun":154,"share":0.3},{"day":238,"pun":142,"share":0.4},{"day":238,"pun":130,"share":0.5},{"day":238,"pun":118,"share":0.6},{"day":238,"pun":106,"share":0.66},
      {"day":240,"pun":170,"share":0.44},{"day":240,"pun":158,"share":0.4},{"day":240,"pun":146,"share":0.44},{"day":240,"pun":134,"share":0.5},{"day":240,"pun":122,"share":0.56},{"day":240,"pun":110,"share":0.62},{"day":240,"pun":98,"share":0.7},
      {"day":242,"pun":164,"share":0.42},{"day":242,"pun":152,"share":0.46},{"day":242,"pun":140,"share":0.5},{"day":242,"pun":128,"share":0.54},{"day":242,"pun":116,"share":0.6},{"day":242,"pun":104,"share":0.66},
      {"day":244,"pun":164,"share":0.42},{"day":244,"pun":152,"share":0.4},{"day":244,"pun":140,"share":0.46},{"day":244,"pun":128,"share":0.5},{"day":244,"pun":116,"share":0.56},{"day":244,"pun":106,"share":0.62},{"day":244,"pun":96,"share":0.68},
      {"day":246,"pun":166,"share":0.38},{"day":246,"pun":154,"share":0.42},{"day":246,"pun":142,"share":0.46},{"day":246,"pun":130,"share":0.5},{"day":246,"pun":118,"share":0.56},{"day":246,"pun":106,"share":0.62},
      {"day":248,"pun":172,"share":0.32},{"day":248,"pun":160,"share":0.38},{"day":248,"pun":148,"share":0.44},{"day":248,"pun":136,"share":0.48},{"day":248,"pun":124,"share":0.52},{"day":248,"pun":112,"share":0.58},{"day":248,"pun":100,"share":0.64},
      {"day":250,"pun":178,"share":0.3},{"day":250,"pun":166,"share":0.34},{"day":250,"pun":154,"share":0.4},{"day":250,"pun":142,"share":0.44},{"day":250,"pun":130,"share":0.5},{"day":250,"pun":118,"share":0.56},{"day":250,"pun":106,"share":0.62},
      {"day":252,"pun":188,"share":0.26},{"day":252,"pun":176,"share":0.3},{"day":252,"pun":164,"share":0.36},{"day":252,"pun":152,"share":0.42},{"day":252,"pun":140,"share":0.46},{"day":252,"pun":128,"share":0.52},{"day":252,"pun":116,"share":0.58},
      {"day":254,"pun":190,"share":0.24},{"day":254,"pun":178,"share":0.28},{"day":254,"pun":166,"share":0.34},{"day":254,"pun":154,"share":0.38},{"day":254,"pun":142,"share":0.44},{"day":254,"pun":130,"share":0.5},{"day":254,"pun":118,"share":0.54},{"day":254,"pun":106,"share":0.6},
      {"day":256,"pun":188,"share":0.28},{"day":256,"pun":176,"share":0.3},{"day":256,"pun":164,"share":0.34},{"day":256,"pun":152,"share":0.4},{"day":256,"pun":140,"share":0.46},{"day":256,"pun":128,"share":0.5},{"day":256,"pun":116,"share":0.56},
      {"day":258,"pun":182,"share":0.32},{"day":258,"pun":170,"share":0.28},{"day":258,"pun":158,"share":0.36},{"day":258,"pun":146,"share":0.42},{"day":258,"pun":134,"share":0.48},{"day":258,"pun":122,"share":0.54},{"day":258,"pun":110,"share":0.58},
      {"day":260,"pun":186,"share":0.26},{"day":260,"pun":172,"share":0.3},{"day":260,"pun":160,"share":0.38},{"day":260,"pun":148,"share":0.44},{"day":260,"pun":136,"share":0.48},{"day":260,"pun":124,"share":0.54},{"day":260,"pun":112,"share":0.6},
      {"day":262,"pun":188,"share":0.24},{"day":262,"pun":174,"share":0.3},{"day":262,"pun":162,"share":0.34},{"day":262,"pun":150,"share":0.4},{"day":262,"pun":138,"share":0.46},{"day":262,"pun":126,"share":0.5},{"day":262,"pun":114,"share":0.56},{"day":262,"pun":102,"share":0.62},
      {"day":264,"pun":180,"share":0.3},{"day":264,"pun":168,"share":0.34},{"day":264,"pun":156,"share":0.38},{"day":264,"pun":144,"share":0.44},{"day":264,"pun":132,"share":0.48},{"day":264,"pun":120,"share":0.54},{"day":264,"pun":108,"share":0.6},
      {"day":266,"pun":176,"share":0.3},{"day":266,"pun":164,"share":0.36},{"day":266,"pun":152,"share":0.4},{"day":266,"pun":140,"share":0.44},{"day":266,"pun":128,"share":0.5},{"day":266,"pun":116,"share":0.58},{"day":266,"pun":104,"share":0.64},
      {"day":268,"pun":184,"share":0.26},{"day":268,"pun":172,"share":0.32},{"day":268,"pun":160,"share":0.38},{"day":268,"pun":148,"share":0.42},{"day":268,"pun":136,"share":0.48},{"day":268,"pun":124,"share":0.54},{"day":268,"pun":112,"share":0.6},
      {"day":270,"pun":190,"share":0.26},{"day":270,"pun":178,"share":0.32},{"day":270,"pun":166,"share":0.36},{"day":270,"pun":154,"share":0.42},{"day":270,"pun":142,"share":0.48},{"day":270,"pun":130,"share":0.52},{"day":270,"pun":118,"share":0.58},{"day":270,"pun":106,"share":0.62},
      {"day":272,"pun":182,"share":0.32},{"day":272,"pun":170,"share":0.38},{"day":272,"pun":158,"share":0.42},{"day":272,"pun":146,"share":0.48},{"day":272,"pun":134,"share":0.52},{"day":272,"pun":122,"share":0.58},{"day":272,"pun":110,"share":0.62},
      {"day":274,"pun":186,"share":0.32},{"day":274,"pun":174,"share":0.38},{"day":274,"pun":162,"share":0.42},{"day":274,"pun":150,"share":0.48},{"day":274,"pun":138,"share":0.52},{"day":274,"pun":126,"share":0.58},{"day":274,"pun":114,"share":0.62},{"day":274,"pun":102,"share":0.66},
      {"day":276,"pun":196,"share":0.3},{"day":276,"pun":182,"share":0.34},{"day":276,"pun":170,"share":0.38},{"day":276,"pun":158,"share":0.44},{"day":276,"pun":146,"share":0.48},{"day":276,"pun":134,"share":0.52},{"day":276,"pun":122,"share":0.58},{"day":276,"pun":110,"share":0.62},
      {"day":278,"pun":186,"share":0.3},{"day":278,"pun":174,"share":0.34},{"day":278,"pun":162,"share":0.4},{"day":278,"pun":150,"share":0.46},{"day":278,"pun":138,"share":0.5},{"day":278,"pun":126,"share":0.54},{"day":278,"pun":114,"share":0.6},{"day":278,"pun":102,"share":0.64},
      {"day":280,"pun":192,"share":0.26},{"day":280,"pun":178,"share":0.32},{"day":280,"pun":166,"share":0.36},{"day":280,"pun":154,"share":0.42},{"day":280,"pun":142,"share":0.46},{"day":280,"pun":130,"share":0.5},{"day":280,"pun":118,"share":0.56},{"day":280,"pun":106,"share":0.62},
      {"day":282,"pun":198,"share":0.24},{"day":282,"pun":186,"share":0.28},{"day":282,"pun":174,"share":0.34},{"day":282,"pun":162,"share":0.4},{"day":282,"pun":150,"share":0.44},{"day":282,"pun":138,"share":0.5},{"day":282,"pun":126,"share":0.54},{"day":282,"pun":114,"share":0.6},
      {"day":284,"pun":206,"share":0.22},{"day":284,"pun":192,"share":0.26},{"day":284,"pun":180,"share":0.3},{"day":284,"pun":168,"share":0.36},{"day":284,"pun":156,"share":0.42},{"day":284,"pun":144,"share":0.46},{"day":284,"pun":132,"share":0.52},{"day":284,"pun":120,"share":0.58},
      {"day":286,"pun":210,"share":0.2},{"day":286,"pun":198,"share":0.24},{"day":286,"pun":186,"share":0.28},{"day":286,"pun":174,"share":0.32},{"day":286,"pun":162,"share":0.38},{"day":286,"pun":150,"share":0.42},{"day":286,"pun":138,"share":0.48},{"day":286,"pun":126,"share":0.54},{"day":286,"pun":114,"share":0.6},
      {"day":288,"pun":218,"share":0.22},{"day":288,"pun":200,"share":0.22},{"day":288,"pun":188,"share":0.26},{"day":288,"pun":176,"share":0.3},{"day":288,"pun":164,"share":0.36},{"day":288,"pun":152,"share":0.4},{"day":288,"pun":140,"share":0.46},{"day":288,"pun":128,"share":0.52},{"day":288,"pun":116,"share":0.6},
      {"day":290,"pun":204,"share":0.24},{"day":290,"pun":192,"share":0.28},{"day":290,"pun":180,"share":0.32},{"day":290,"pun":168,"share":0.36},{"day":290,"pun":156,"share":0.42},{"day":290,"pun":144,"share":0.48},{"day":290,"pun":132,"share":0.54},{"day":290,"pun":120,"share":0.6},{"day":290,"pun":108,"share":0.64},
      {"day":292,"pun":198,"share":0.4},{"day":292,"pun":186,"share":0.44},{"day":292,"pun":174,"share":0.48},{"day":292,"pun":162,"share":0.52},{"day":292,"pun":150,"share":0.56},{"day":292,"pun":138,"share":0.6},{"day":292,"pun":126,"share":0.64},{"day":292,"pun":114,"share":0.68},
      {"day":294,"pun":188,"share":0.52},{"day":294,"pun":176,"share":0.56},{"day":294,"pun":164,"share":0.58},{"day":294,"pun":152,"share":0.62},{"day":294,"pun":140,"share":0.64},{"day":294,"pun":128,"share":0.68},{"day":294,"pun":116,"share":0.72},{"day":294,"pun":104,"share":0.74},
      {"day":296,"pun":184,"share":0.52},{"day":296,"pun":172,"share":0.56},{"day":296,"pun":160,"share":0.6},{"day":296,"pun":148,"share":0.64},{"day":296,"pun":136,"share":0.66},{"day":296,"pun":124,"share":0.7},{"day":296,"pun":112,"share":0.72},
      {"day":298,"pun":180,"share":0.52},{"day":298,"pun":168,"share":0.56},{"day":298,"pun":156,"share":0.6},{"day":298,"pun":144,"share":0.64},{"day":298,"pun":132,"share":0.68},{"day":298,"pun":120,"share":0.72},{"day":298,"pun":108,"share":0.74},{"day":298,"pun":98,"share":0.78},
      {"day":300,"pun":174,"share":0.56},{"day":300,"pun":162,"share":0.6},{"day":300,"pun":150,"share":0.64},{"day":300,"pun":138,"share":0.68},{"day":300,"pun":126,"share":0.72},{"day":300,"pun":114,"share":0.74},{"day":300,"pun":102,"share":0.78},{"day":300,"pun":90,"share":0.8},
      {"day":302,"pun":172,"share":0.52},{"day":302,"pun":160,"share":0.58},{"day":302,"pun":148,"share":0.66},{"day":302,"pun":136,"share":0.7},{"day":302,"pun":124,"share":0.74},{"day":302,"pun":112,"share":0.76},{"day":302,"pun":100,"share":0.8},{"day":302,"pun":88,"share":0.82},
      {"day":304,"pun":170,"share":0.52},{"day":304,"pun":158,"share":0.58},{"day":304,"pun":146,"share":0.62},{"day":304,"pun":134,"share":0.72},{"day":304,"pun":122,"share":0.74},{"day":304,"pun":110,"share":0.78},{"day":304,"pun":98,"share":0.8},{"day":304,"pun":86,"share":0.82},{"day":304,"pun":74,"share":0.84},
      {"day":306,"pun":172,"share":0.5},{"day":306,"pun":158,"share":0.56},{"day":306,"pun":146,"share":0.64},{"day":306,"pun":134,"share":0.72},{"day":306,"pun":122,"share":0.76},{"day":306,"pun":110,"share":0.78},{"day":306,"pun":98,"share":0.82},{"day":306,"pun":86,"share":0.84},{"day":306,"pun":74,"share":0.8},
      {"day":308,"pun":152,"share":0.5},{"day":308,"pun":140,"share":0.6},{"day":308,"pun":128,"share":0.7},{"day":308,"pun":116,"share":0.74},{"day":308,"pun":104,"share":0.78},{"day":308,"pun":92,"share":0.82},{"day":308,"pun":80,"share":0.84},{"day":308,"pun":68,"share":0.8},
      {"day":310,"pun":150,"share":0.56},{"day":310,"pun":138,"share":0.6},{"day":310,"pun":126,"share":0.66},{"day":310,"pun":114,"share":0.7},{"day":310,"pun":102,"share":0.74},{"day":310,"pun":90,"share":0.78},
      {"day":312,"pun":158,"share":0.48},{"day":312,"pun":146,"share":0.52},{"day":312,"pun":134,"share":0.58},{"day":312,"pun":122,"share":0.62},{"day":312,"pun":110,"share":0.66},{"day":312,"pun":98,"share":0.72},
      {"day":314,"pun":164,"share":0.46},{"day":314,"pun":150,"share":0.5},{"day":314,"pun":138,"share":0.54},{"day":314,"pun":126,"share":0.58},{"day":314,"pun":114,"share":0.62},{"day":314,"pun":102,"share":0.68},{"day":314,"pun":90,"share":0.8},{"day":314,"pun":78,"share":0.8},
      {"day":316,"pun":162,"share":0.44},{"day":316,"pun":150,"share":0.46},{"day":316,"pun":138,"share":0.52},{"day":316,"pun":126,"share":0.56},{"day":316,"pun":114,"share":0.62},{"day":316,"pun":104,"share":0.66},
      {"day":318,"pun":170,"share":0.42},{"day":318,"pun":158,"share":0.46},{"day":318,"pun":146,"share":0.5},{"day":318,"pun":134,"share":0.56},{"day":318,"pun":122,"share":0.6},{"day":318,"pun":110,"share":0.64},
      {"day":320,"pun":176,"share":0.42},{"day":320,"pun":164,"share":0.46},{"day":320,"pun":152,"share":0.5},{"day":320,"pun":140,"share":0.54},{"day":320,"pun":128,"share":0.58},{"day":320,"pun":116,"share":0.62},{"day":320,"pun":104,"share":0.68},
      {"day":322,"pun":162,"share":0.44},{"day":322,"pun":150,"share":0.48},{"day":322,"pun":138,"share":0.52},{"day":322,"pun":126,"share":0.58},{"day":322,"pun":114,"share":0.62},{"day":322,"pun":102,"share":0.7},
      {"day":324,"pun":168,"share":0.4},{"day":324,"pun":156,"share":0.44},{"day":324,"pun":144,"share":0.5},{"day":324,"pun":132,"share":0.54},{"day":324,"pun":120,"share":0.6},{"day":324,"pun":108,"share":0.64},
      {"day":326,"pun":164,"share":0.36},{"day":326,"pun":152,"share":0.4},{"day":326,"pun":140,"share":0.44},{"day":326,"pun":128,"share":0.5},{"day":326,"pun":116,"share":0.54},{"day":326,"pun":104,"share":0.6},
      {"day":328,"pun":170,"share":0.32},{"day":328,"pun":158,"share":0.36},{"day":328,"pun":146,"share":0.4},{"day":328,"pun":134,"share":0.44},{"day":328,"pun":122,"share":0.5},{"day":328,"pun":110,"share":0.56},{"day":328,"pun":100,"share":0.6},
      {"day":330,"pun":176,"share":0.3},{"day":330,"pun":164,"share":0.34},{"day":330,"pun":152,"share":0.38},{"day":330,"pun":140,"share":0.42},{"day":330,"pun":128,"share":0.48},{"day":330,"pun":116,"share":0.52},{"day":330,"pun":104,"share":0.58},
      {"day":332,"pun":190,"share":0.3},{"day":332,"pun":176,"share":0.3},{"day":332,"pun":164,"share":0.34},{"day":332,"pun":152,"share":0.36},{"day":332,"pun":140,"share":0.42},{"day":332,"pun":128,"share":0.48},{"day":332,"pun":116,"share":0.52},{"day":332,"pun":104,"share":0.56},
      {"day":334,"pun":196,"share":0.32},{"day":334,"pun":184,"share":0.3},{"day":334,"pun":172,"share":0.28},{"day":334,"pun":160,"share":0.34},{"day":334,"pun":148,"share":0.38},{"day":334,"pun":136,"share":0.42},{"day":334,"pun":124,"share":0.48},{"day":334,"pun":112,"share":0.52},{"day":334,"pun":100,"share":0.56},
      {"day":336,"pun":178,"share":0.26},{"day":336,"pun":166,"share":0.3},{"day":336,"pun":154,"share":0.34},{"day":336,"pun":142,"share":0.38},{"day":336,"pun":130,"share":0.42},{"day":336,"pun":118,"share":0.48},{"day":336,"pun":106,"share":0.52},
      {"day":338,"pun":176,"share":0.22},{"day":338,"pun":164,"share":0.26},{"day":338,"pun":152,"share":0.3},{"day":338,"pun":140,"share":0.34},{"day":338,"pun":128,"share":0.38},{"day":338,"pun":116,"share":0.42},{"day":338,"pun":104,"share":0.48},
      {"day":340,"pun":174,"share":0.24},{"day":340,"pun":162,"share":0.26},{"day":340,"pun":150,"share":0.3},{"day":340,"pun":138,"share":0.34},{"day":340,"pun":126,"share":0.4},{"day":340,"pun":114,"share":0.44},{"day":340,"pun":102,"share":0.5},
      {"day":342,"pun":166,"share":0.28},{"day":342,"pun":154,"share":0.3},{"day":342,"pun":142,"share":0.36},{"day":342,"pun":130,"share":0.4},{"day":342,"pun":118,"share":0.46},{"day":342,"pun":106,"share":0.52},
      {"day":344,"pun":164,"share":0.3},{"day":344,"pun":152,"share":0.32},{"day":344,"pun":140,"share":0.36},{"day":344,"pun":128,"share":0.42},{"day":344,"pun":116,"share":0.46},{"day":344,"pun":104,"share":0.52},{"day":344,"pun":92,"share":0.56},
      {"day":346,"pun":160,"share":0.32},{"day":346,"pun":148,"share":0.34},{"day":346,"pun":136,"share":0.38},{"day":346,"pun":124,"share":0.44},{"day":346,"pun":112,"share":0.5},{"day":346,"pun":100,"share":0.56},
      {"day":348,"pun":158,"share":0.3},{"day":348,"pun":146,"share":0.32},{"day":348,"pun":134,"share":0.38},{"day":348,"pun":122,"share":0.44},{"day":348,"pun":110,"share":0.5},{"day":348,"pun":98,"share":0.56},{"day":348,"pun":88,"share":0.6},
      {"day":350,"pun":158,"share":0.26},{"day":350,"pun":146,"share":0.3},{"day":350,"pun":134,"share":0.34},{"day":350,"pun":122,"share":0.4},{"day":350,"pun":110,"share":0.46},{"day":350,"pun":98,"share":0.52},{"day":350,"pun":88,"share":0.6},
      {"day":352,"pun":164,"share":0.28},{"day":352,"pun":152,"share":0.26},{"day":352,"pun":140,"share":0.3},{"day":352,"pun":128,"share":0.34},{"day":352,"pun":116,"share":0.4},{"day":352,"pun":104,"share":0.46},{"day":352,"pun":94,"share":0.52},
      {"day":354,"pun":160,"share":0.3},{"day":354,"pun":150,"share":0.26},{"day":354,"pun":138,"share":0.22},{"day":354,"pun":126,"share":0.28},{"day":354,"pun":114,"share":0.34},{"day":354,"pun":102,"share":0.42},{"day":354,"pun":92,"share":0.48},
      {"day":356,"pun":152,"share":0.28},{"day":356,"pun":140,"share":0.24},{"day":356,"pun":128,"share":0.22},{"day":356,"pun":116,"share":0.3},{"day":356,"pun":104,"share":0.36},{"day":356,"pun":94,"share":0.42},
      {"day":358,"pun":154,"share":0.24},{"day":358,"pun":142,"share":0.22},{"day":358,"pun":130,"share":0.26},{"day":358,"pun":118,"share":0.28},{"day":358,"pun":106,"share":0.34},{"day":358,"pun":96,"share":0.4},
      {"day":360,"pun":152,"share":0.22},{"day":360,"pun":142,"share":0.2},{"day":360,"pun":130,"share":0.24},{"day":360,"pun":118,"share":0.28},{"day":360,"pun":106,"share":0.32},{"day":360,"pun":96,"share":0.36},
      {"day":362,"pun":146,"share":0.24},{"day":362,"pun":134,"share":0.26},{"day":362,"pun":122,"share":0.3},{"day":362,"pun":110,"share":0.34},{"day":362,"pun":100,"share":0.36}
    ]
  },
  "mark": {"type": "circle", "size": 185, "opacity": 1},
  "encoding": {
    "x": {
      "field": "day",
      "type": "quantitative",
      "scale": {"domain": [0, 365], "nice": false, "zero": false},
      "axis": {
        "values": [0, 31, 59, 90, 120, 151, 181, 212, 243, 273, 304, 334, 365],
        "labelExpr": "timeFormat(datetime(2022, 0, 1 + datum.value), '%b')",
        "labelPadding": 29,
        "labelFlush": false,
        "labelOverlap": false,
        "title": "2023",
        "titleX": 1258,
        "titleY": 97,
        "titleAlign": "center",
        "titleBaseline": "alphabetic",
        "titleFontSize": 42
      }
    },
    "y": {
      "field": "pun",
      "type": "quantitative",
      "scale": {"domain": [0, 300], "nice": false},
      "axis": {
        "values": [0, 50, 100, 150, 200, 250, 300],
        "labelPadding": 20,
        "title": "PUN [€/MWh]",
        "titleX": -102,
        "titleY": 297,
        "titleAlign": "center",
        "titleBaseline": "middle",
        "titleAngle": 270
      }
    },
    "color": {
      "field": "share",
      "type": "quantitative",
      "title": "Renewable share [%]",
      "scale": {
        "domain": [0.14, 0.23, 0.41, 0.59, 0.77, 0.86],
        "range": ["#00007f", "#0000ff", "#00ffff", "#ffff00", "#ff0000", "#7f0000"],
        "interpolate": "rgb",
        "clamp": true
      },
      "legend": {
        "orient": "right",
        "offset": 49,
        "padding": 0,
        "direction": "vertical",
        "gradientLength": 595,
        "gradientThickness": 28,
        "gradientStrokeColor": "#444444",
        "gradientStrokeWidth": 1,
        "values": [0.2, 0.3, 0.4, 0.5, 0.6, 0.7, 0.8],
        "format": ".1f",
        "labelFont": "Liberation Serif",
        "labelFontSize": 40,
        "labelFontWeight": "bold",
        "labelColor": "#262626",
        "labelOffset": 12,
        "labelOverlap": false,
        "titleFont": "Liberation Serif",
        "titleFontSize": 41,
        "titleFontWeight": "bold",
        "titleColor": "#262626",
        "titleOrient": "right",
        "titleAngle": 270,
        "titleAnchor": "middle",
        "titleAlign": "center",
        "titleBaseline": "top",
        "titleLimit": 700,
        "titlePadding": 48
      }
    }
  }
}
